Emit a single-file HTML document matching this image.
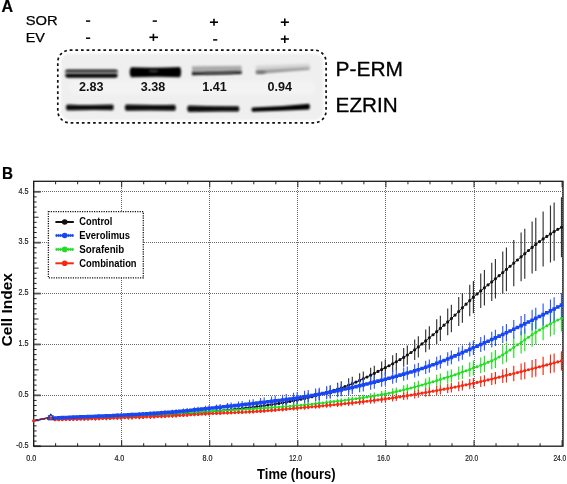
<!DOCTYPE html>
<html><head><meta charset="utf-8"><style>html,body{margin:0;padding:0;background:#fff;}body{width:567px;height:484px;overflow:hidden;}</style></head><body>
<svg width="567" height="484" viewBox="0 0 567 484" style="display:block;will-change:transform">
<defs><filter id="b1" x="-20%" y="-100%" width="140%" height="300%"><feGaussianBlur stdDeviation="0.9"/></filter><filter id="b2" x="-20%" y="-100%" width="140%" height="300%"><feGaussianBlur stdDeviation="1.5"/></filter><filter id="b0" x="-20%" y="-100%" width="140%" height="300%"><feGaussianBlur stdDeviation="0.9"/></filter></defs>
<rect width="567" height="484" fill="#fff"/>
<text x="1.5" y="12.4" font-family="Liberation Sans, sans-serif" font-size="16.5" font-weight="bold" textLength="11.6" stroke="#000" stroke-width="0.2" lengthAdjust="spacingAndGlyphs">A</text>
<text x="25.7" y="24.8" font-family="Liberation Sans, sans-serif" font-size="13.6" textLength="32" stroke="#000" stroke-width="0.25" lengthAdjust="spacingAndGlyphs">SOR</text>
<text x="25.7" y="41.7" font-family="Liberation Sans, sans-serif" font-size="13.6" textLength="19.2" stroke="#000" stroke-width="0.25" lengthAdjust="spacingAndGlyphs">EV</text>
<line x1="86" y1="21.1" x2="90.2" y2="21.1" stroke="#000" stroke-width="1.5"/>
<line x1="152.7" y1="21.1" x2="156.9" y2="21.1" stroke="#000" stroke-width="1.5"/>
<line x1="209.9" y1="22.2" x2="218" y2="22.2" stroke="#000" stroke-width="1.6"/>
<line x1="214" y1="18.7" x2="214" y2="25.7" stroke="#000" stroke-width="1.6"/>
<line x1="280.8" y1="22.2" x2="288.9" y2="22.2" stroke="#000" stroke-width="1.6"/>
<line x1="284.8" y1="18.5" x2="284.8" y2="25.9" stroke="#000" stroke-width="1.6"/>
<line x1="86" y1="38.2" x2="90.2" y2="38.2" stroke="#000" stroke-width="1.5"/>
<line x1="149.4" y1="37.3" x2="158" y2="37.3" stroke="#000" stroke-width="1.6"/>
<line x1="153.4" y1="33.8" x2="153.4" y2="40.9" stroke="#000" stroke-width="1.6"/>
<line x1="213.1" y1="39.9" x2="217.3" y2="39.9" stroke="#000" stroke-width="1.5"/>
<line x1="280.8" y1="39" x2="288.9" y2="39" stroke="#000" stroke-width="1.6"/>
<line x1="284.8" y1="35.5" x2="284.8" y2="42.9" stroke="#000" stroke-width="1.6"/>
<rect x="60.8" y="53.4" width="262.5" height="66.5" rx="9" fill="#efefef" filter="url(#b1)"/>
<rect x="70" y="80.5" width="245" height="14" rx="5" fill="#f3f3f3" filter="url(#b2)"/>
<rect x="57.8" y="50.1" width="268.3" height="72.7" rx="12" fill="none" stroke="#111" stroke-width="1.7" stroke-dasharray="2.7 2.9"/>
<rect x="65" y="69" width="52.8" height="8.6" rx="3.5" fill="#a0a0a0" filter="url(#b1)"/>
<rect x="65.5" y="69.9" width="52" height="2.2" rx="1.1" fill="#1a1a1a" filter="url(#b1)"/>
<rect x="65.5" y="74" width="52" height="3.4" rx="1.7" fill="#000" filter="url(#b1)"/>
<path d="M131,67.2 Q155,68.2 180,67 Q182.2,72 180,77.2 Q155,76.3 131,77.3 Q128.3,72 131,67.2 Z" fill="#030303" filter="url(#b1)"/>
<ellipse cx="153.5" cy="71" rx="5" ry="1.3" fill="#3a3a3a" filter="url(#b1)"/>
<path d="M192,66.2 L241.5,65.8 L241.5,73 L192,74 Z" fill="#aaaaaa" filter="url(#b1)"/>
<path d="M192,72.3 Q215,72.6 241.5,71.2 L241.5,74 Q215,74.6 192,75.2 Z" fill="#1a1a1a" filter="url(#b1)"/>
<path d="M205,72.6 L232,72.2 L232,73.8 L205,74.3 Z" fill="#555" filter="url(#b1)"/>
<path d="M256,66 L309.5,64 L309.5,69.5 L256,73.5 Z" fill="#cfcfcf" filter="url(#b2)"/>
<path d="M256,70.6 L309.5,67.4 L309.5,69.4 L256,74 Z" fill="#999" filter="url(#b1)"/>
<ellipse cx="261" cy="72.3" rx="5" ry="1.4" fill="#707070" filter="url(#b1)"/>
<text x="79" y="91" font-family="Liberation Sans, sans-serif" font-size="12.6" font-weight="bold" fill="#111">2.83</text>
<text x="140.7" y="91" font-family="Liberation Sans, sans-serif" font-size="12.6" font-weight="bold" fill="#111">3.38</text>
<text x="202.3" y="91" font-family="Liberation Sans, sans-serif" font-size="12.6" font-weight="bold" fill="#111">1.41</text>
<text x="267.5" y="91" font-family="Liberation Sans, sans-serif" font-size="12.6" font-weight="bold" fill="#111">0.94</text>
<path d="M67,104.5 Q90,105.5 113,104.6 Q114.8,107.4 113,110.3 Q90,109.6 67,110.6 Q64.8,107.5 67,104.5 Z" fill="#101010" filter="url(#b1)"/>
<path d="M126,104.6 Q150,105.3 175,104.8 Q176.8,107.8 175,110.8 Q150,110.2 126,110.8 Q123.6,107.7 126,104.6 Z" fill="#080808" filter="url(#b1)"/>
<path d="M188.5,105.6 Q213,106.5 238.5,106.2 Q240.3,109 238.5,111.6 Q213,111.2 188.5,112 Q185.8,108.8 188.5,105.6 Z" fill="#080808" filter="url(#b1)"/>
<path d="M252.5,107.4 Q280,107 309,103.8 Q310.9,106.6 309,109.4 Q280,110.6 252.5,111.8 Q250.3,109.6 252.5,107.4 Z" fill="#060606" filter="url(#b1)"/>
<text x="335.6" y="76.1" font-family="Liberation Sans, sans-serif" font-size="20" textLength="67.4" stroke="#000" stroke-width="0.3" lengthAdjust="spacingAndGlyphs">P-ERM</text>
<text x="335.6" y="112.1" font-family="Liberation Sans, sans-serif" font-size="19.8" textLength="62" stroke="#000" stroke-width="0.3" lengthAdjust="spacingAndGlyphs">EZRIN</text>
<text x="2.0" y="179.4" font-family="Liberation Sans, sans-serif" font-size="16.6" font-weight="bold" textLength="11.0" stroke="#000" stroke-width="0.2" lengthAdjust="spacingAndGlyphs">B</text>
<line x1="121.50" y1="182" x2="121.50" y2="446" stroke="#6a6a6a" stroke-width="1" stroke-dasharray="1 1"/>
<line x1="209.50" y1="182" x2="209.50" y2="446" stroke="#6a6a6a" stroke-width="1" stroke-dasharray="1 1"/>
<line x1="297.50" y1="182" x2="297.50" y2="446" stroke="#6a6a6a" stroke-width="1" stroke-dasharray="1 1"/>
<line x1="385.50" y1="182" x2="385.50" y2="446" stroke="#6a6a6a" stroke-width="1" stroke-dasharray="1 1"/>
<line x1="474.50" y1="182" x2="474.50" y2="446" stroke="#6a6a6a" stroke-width="1" stroke-dasharray="1 1"/>
<line x1="562.50" y1="182" x2="562.50" y2="446" stroke="#6a6a6a" stroke-width="1" stroke-dasharray="1 1"/>
<line x1="40" y1="395.50" x2="562" y2="395.50" stroke="#6a6a6a" stroke-width="1" stroke-dasharray="1 1"/>
<line x1="40" y1="344.50" x2="562" y2="344.50" stroke="#6a6a6a" stroke-width="1" stroke-dasharray="1 1"/>
<line x1="40" y1="293.50" x2="562" y2="293.50" stroke="#6a6a6a" stroke-width="1" stroke-dasharray="1 1"/>
<line x1="40" y1="242.50" x2="562" y2="242.50" stroke="#6a6a6a" stroke-width="1" stroke-dasharray="1 1"/>
<line x1="40" y1="191.50" x2="562" y2="191.50" stroke="#6a6a6a" stroke-width="1" stroke-dasharray="1 1"/>
<line x1="33.6" y1="446.20" x2="40.8" y2="446.20" stroke="#555" stroke-width="1.8"/>
<line x1="33.6" y1="441.11" x2="36.6" y2="441.11" stroke="#222" stroke-width="1"/>
<line x1="33.6" y1="436.02" x2="36.6" y2="436.02" stroke="#222" stroke-width="1"/>
<line x1="33.6" y1="430.94" x2="36.6" y2="430.94" stroke="#222" stroke-width="1"/>
<line x1="33.6" y1="425.85" x2="36.6" y2="425.85" stroke="#222" stroke-width="1"/>
<line x1="33.6" y1="420.76" x2="38.6" y2="420.76" stroke="#222" stroke-width="1"/>
<line x1="33.6" y1="415.67" x2="36.6" y2="415.67" stroke="#222" stroke-width="1"/>
<line x1="33.6" y1="410.58" x2="36.6" y2="410.58" stroke="#222" stroke-width="1"/>
<line x1="33.6" y1="405.50" x2="36.6" y2="405.50" stroke="#222" stroke-width="1"/>
<line x1="33.6" y1="400.41" x2="36.6" y2="400.41" stroke="#222" stroke-width="1"/>
<line x1="33.6" y1="395.32" x2="40.8" y2="395.32" stroke="#555" stroke-width="1.8"/>
<line x1="33.6" y1="390.23" x2="36.6" y2="390.23" stroke="#222" stroke-width="1"/>
<line x1="33.6" y1="385.14" x2="36.6" y2="385.14" stroke="#222" stroke-width="1"/>
<line x1="33.6" y1="380.06" x2="36.6" y2="380.06" stroke="#222" stroke-width="1"/>
<line x1="33.6" y1="374.97" x2="36.6" y2="374.97" stroke="#222" stroke-width="1"/>
<line x1="33.6" y1="369.88" x2="38.6" y2="369.88" stroke="#222" stroke-width="1"/>
<line x1="33.6" y1="364.79" x2="36.6" y2="364.79" stroke="#222" stroke-width="1"/>
<line x1="33.6" y1="359.70" x2="36.6" y2="359.70" stroke="#222" stroke-width="1"/>
<line x1="33.6" y1="354.62" x2="36.6" y2="354.62" stroke="#222" stroke-width="1"/>
<line x1="33.6" y1="349.53" x2="36.6" y2="349.53" stroke="#222" stroke-width="1"/>
<line x1="33.6" y1="344.44" x2="40.8" y2="344.44" stroke="#555" stroke-width="1.8"/>
<line x1="33.6" y1="339.35" x2="36.6" y2="339.35" stroke="#222" stroke-width="1"/>
<line x1="33.6" y1="334.26" x2="36.6" y2="334.26" stroke="#222" stroke-width="1"/>
<line x1="33.6" y1="329.18" x2="36.6" y2="329.18" stroke="#222" stroke-width="1"/>
<line x1="33.6" y1="324.09" x2="36.6" y2="324.09" stroke="#222" stroke-width="1"/>
<line x1="33.6" y1="319.00" x2="38.6" y2="319.00" stroke="#222" stroke-width="1"/>
<line x1="33.6" y1="313.91" x2="36.6" y2="313.91" stroke="#222" stroke-width="1"/>
<line x1="33.6" y1="308.82" x2="36.6" y2="308.82" stroke="#222" stroke-width="1"/>
<line x1="33.6" y1="303.74" x2="36.6" y2="303.74" stroke="#222" stroke-width="1"/>
<line x1="33.6" y1="298.65" x2="36.6" y2="298.65" stroke="#222" stroke-width="1"/>
<line x1="33.6" y1="293.56" x2="40.8" y2="293.56" stroke="#555" stroke-width="1.8"/>
<line x1="33.6" y1="288.47" x2="36.6" y2="288.47" stroke="#222" stroke-width="1"/>
<line x1="33.6" y1="283.38" x2="36.6" y2="283.38" stroke="#222" stroke-width="1"/>
<line x1="33.6" y1="278.30" x2="36.6" y2="278.30" stroke="#222" stroke-width="1"/>
<line x1="33.6" y1="273.21" x2="36.6" y2="273.21" stroke="#222" stroke-width="1"/>
<line x1="33.6" y1="268.12" x2="38.6" y2="268.12" stroke="#222" stroke-width="1"/>
<line x1="33.6" y1="263.03" x2="36.6" y2="263.03" stroke="#222" stroke-width="1"/>
<line x1="33.6" y1="257.94" x2="36.6" y2="257.94" stroke="#222" stroke-width="1"/>
<line x1="33.6" y1="252.86" x2="36.6" y2="252.86" stroke="#222" stroke-width="1"/>
<line x1="33.6" y1="247.77" x2="36.6" y2="247.77" stroke="#222" stroke-width="1"/>
<line x1="33.6" y1="242.68" x2="40.8" y2="242.68" stroke="#555" stroke-width="1.8"/>
<line x1="33.6" y1="237.59" x2="36.6" y2="237.59" stroke="#222" stroke-width="1"/>
<line x1="33.6" y1="232.50" x2="36.6" y2="232.50" stroke="#222" stroke-width="1"/>
<line x1="33.6" y1="227.42" x2="36.6" y2="227.42" stroke="#222" stroke-width="1"/>
<line x1="33.6" y1="222.33" x2="36.6" y2="222.33" stroke="#222" stroke-width="1"/>
<line x1="33.6" y1="217.24" x2="38.6" y2="217.24" stroke="#222" stroke-width="1"/>
<line x1="33.6" y1="212.15" x2="36.6" y2="212.15" stroke="#222" stroke-width="1"/>
<line x1="33.6" y1="207.06" x2="36.6" y2="207.06" stroke="#222" stroke-width="1"/>
<line x1="33.6" y1="201.98" x2="36.6" y2="201.98" stroke="#222" stroke-width="1"/>
<line x1="33.6" y1="196.89" x2="36.6" y2="196.89" stroke="#222" stroke-width="1"/>
<line x1="33.6" y1="191.80" x2="40.8" y2="191.80" stroke="#555" stroke-width="1.8"/>
<line x1="33.60" y1="446.2" x2="33.60" y2="440.2" stroke="#222" stroke-width="1"/>
<line x1="33.60" y1="181.3" x2="33.60" y2="187.3" stroke="#222" stroke-width="1"/>
<line x1="55.62" y1="446.2" x2="55.62" y2="443.2" stroke="#222" stroke-width="1"/>
<line x1="55.62" y1="181.3" x2="55.62" y2="184.3" stroke="#222" stroke-width="1"/>
<line x1="77.64" y1="446.2" x2="77.64" y2="443.2" stroke="#222" stroke-width="1"/>
<line x1="77.64" y1="181.3" x2="77.64" y2="184.3" stroke="#222" stroke-width="1"/>
<line x1="99.66" y1="446.2" x2="99.66" y2="443.2" stroke="#222" stroke-width="1"/>
<line x1="99.66" y1="181.3" x2="99.66" y2="184.3" stroke="#222" stroke-width="1"/>
<line x1="121.68" y1="446.2" x2="121.68" y2="440.2" stroke="#222" stroke-width="1"/>
<line x1="121.68" y1="181.3" x2="121.68" y2="187.3" stroke="#222" stroke-width="1"/>
<line x1="143.70" y1="446.2" x2="143.70" y2="443.2" stroke="#222" stroke-width="1"/>
<line x1="143.70" y1="181.3" x2="143.70" y2="184.3" stroke="#222" stroke-width="1"/>
<line x1="165.72" y1="446.2" x2="165.72" y2="443.2" stroke="#222" stroke-width="1"/>
<line x1="165.72" y1="181.3" x2="165.72" y2="184.3" stroke="#222" stroke-width="1"/>
<line x1="187.75" y1="446.2" x2="187.75" y2="443.2" stroke="#222" stroke-width="1"/>
<line x1="187.75" y1="181.3" x2="187.75" y2="184.3" stroke="#222" stroke-width="1"/>
<line x1="209.77" y1="446.2" x2="209.77" y2="440.2" stroke="#222" stroke-width="1"/>
<line x1="209.77" y1="181.3" x2="209.77" y2="187.3" stroke="#222" stroke-width="1"/>
<line x1="231.79" y1="446.2" x2="231.79" y2="443.2" stroke="#222" stroke-width="1"/>
<line x1="231.79" y1="181.3" x2="231.79" y2="184.3" stroke="#222" stroke-width="1"/>
<line x1="253.81" y1="446.2" x2="253.81" y2="443.2" stroke="#222" stroke-width="1"/>
<line x1="253.81" y1="181.3" x2="253.81" y2="184.3" stroke="#222" stroke-width="1"/>
<line x1="275.83" y1="446.2" x2="275.83" y2="443.2" stroke="#222" stroke-width="1"/>
<line x1="275.83" y1="181.3" x2="275.83" y2="184.3" stroke="#222" stroke-width="1"/>
<line x1="297.85" y1="446.2" x2="297.85" y2="440.2" stroke="#222" stroke-width="1"/>
<line x1="297.85" y1="181.3" x2="297.85" y2="187.3" stroke="#222" stroke-width="1"/>
<line x1="319.87" y1="446.2" x2="319.87" y2="443.2" stroke="#222" stroke-width="1"/>
<line x1="319.87" y1="181.3" x2="319.87" y2="184.3" stroke="#222" stroke-width="1"/>
<line x1="341.89" y1="446.2" x2="341.89" y2="443.2" stroke="#222" stroke-width="1"/>
<line x1="341.89" y1="181.3" x2="341.89" y2="184.3" stroke="#222" stroke-width="1"/>
<line x1="363.91" y1="446.2" x2="363.91" y2="443.2" stroke="#222" stroke-width="1"/>
<line x1="363.91" y1="181.3" x2="363.91" y2="184.3" stroke="#222" stroke-width="1"/>
<line x1="385.93" y1="446.2" x2="385.93" y2="440.2" stroke="#222" stroke-width="1"/>
<line x1="385.93" y1="181.3" x2="385.93" y2="187.3" stroke="#222" stroke-width="1"/>
<line x1="407.95" y1="446.2" x2="407.95" y2="443.2" stroke="#222" stroke-width="1"/>
<line x1="407.95" y1="181.3" x2="407.95" y2="184.3" stroke="#222" stroke-width="1"/>
<line x1="429.98" y1="446.2" x2="429.98" y2="443.2" stroke="#222" stroke-width="1"/>
<line x1="429.98" y1="181.3" x2="429.98" y2="184.3" stroke="#222" stroke-width="1"/>
<line x1="452.00" y1="446.2" x2="452.00" y2="443.2" stroke="#222" stroke-width="1"/>
<line x1="452.00" y1="181.3" x2="452.00" y2="184.3" stroke="#222" stroke-width="1"/>
<line x1="474.02" y1="446.2" x2="474.02" y2="440.2" stroke="#222" stroke-width="1"/>
<line x1="474.02" y1="181.3" x2="474.02" y2="187.3" stroke="#222" stroke-width="1"/>
<line x1="496.04" y1="446.2" x2="496.04" y2="443.2" stroke="#222" stroke-width="1"/>
<line x1="496.04" y1="181.3" x2="496.04" y2="184.3" stroke="#222" stroke-width="1"/>
<line x1="518.06" y1="446.2" x2="518.06" y2="443.2" stroke="#222" stroke-width="1"/>
<line x1="518.06" y1="181.3" x2="518.06" y2="184.3" stroke="#222" stroke-width="1"/>
<line x1="540.08" y1="446.2" x2="540.08" y2="443.2" stroke="#222" stroke-width="1"/>
<line x1="540.08" y1="181.3" x2="540.08" y2="184.3" stroke="#222" stroke-width="1"/>
<line x1="562.10" y1="446.2" x2="562.10" y2="440.2" stroke="#222" stroke-width="1"/>
<line x1="562.10" y1="181.3" x2="562.10" y2="187.3" stroke="#222" stroke-width="1"/>
<rect x="33.7" y="181.3" width="529.3" height="264.9" fill="none" stroke="#1a1a1a" stroke-width="1.3"/>
<text x="28.6" y="447.90" font-family="Liberation Sans, sans-serif" font-size="8.4" fill="#222" stroke="#222" stroke-width="0.2" text-anchor="end" textLength="12.4" lengthAdjust="spacingAndGlyphs">-0.5</text>
<text x="28.6" y="397.02" font-family="Liberation Sans, sans-serif" font-size="8.4" fill="#222" stroke="#222" stroke-width="0.2" text-anchor="end" textLength="10.0" lengthAdjust="spacingAndGlyphs">0.5</text>
<text x="28.6" y="346.14" font-family="Liberation Sans, sans-serif" font-size="8.4" fill="#222" stroke="#222" stroke-width="0.2" text-anchor="end" textLength="10.0" lengthAdjust="spacingAndGlyphs">1.5</text>
<text x="28.6" y="295.26" font-family="Liberation Sans, sans-serif" font-size="8.4" fill="#222" stroke="#222" stroke-width="0.2" text-anchor="end" textLength="10.0" lengthAdjust="spacingAndGlyphs">2.5</text>
<text x="28.6" y="244.38" font-family="Liberation Sans, sans-serif" font-size="8.4" fill="#222" stroke="#222" stroke-width="0.2" text-anchor="end" textLength="10.0" lengthAdjust="spacingAndGlyphs">3.5</text>
<text x="28.6" y="193.50" font-family="Liberation Sans, sans-serif" font-size="8.4" fill="#222" stroke="#222" stroke-width="0.2" text-anchor="end" textLength="10.0" lengthAdjust="spacingAndGlyphs">4.5</text>
<text x="31.30" y="460.8" font-family="Liberation Sans, sans-serif" font-size="8.4" fill="#222" stroke="#222" stroke-width="0.2" text-anchor="middle" textLength="10.0" lengthAdjust="spacingAndGlyphs">0.0</text>
<text x="119.38" y="460.8" font-family="Liberation Sans, sans-serif" font-size="8.4" fill="#222" stroke="#222" stroke-width="0.2" text-anchor="middle" textLength="10.0" lengthAdjust="spacingAndGlyphs">4.0</text>
<text x="207.47" y="460.8" font-family="Liberation Sans, sans-serif" font-size="8.4" fill="#222" stroke="#222" stroke-width="0.2" text-anchor="middle" textLength="10.0" lengthAdjust="spacingAndGlyphs">8.0</text>
<text x="295.55" y="460.8" font-family="Liberation Sans, sans-serif" font-size="8.4" fill="#222" stroke="#222" stroke-width="0.2" text-anchor="middle" textLength="12.8" lengthAdjust="spacingAndGlyphs">12.0</text>
<text x="383.63" y="460.8" font-family="Liberation Sans, sans-serif" font-size="8.4" fill="#222" stroke="#222" stroke-width="0.2" text-anchor="middle" textLength="12.8" lengthAdjust="spacingAndGlyphs">16.0</text>
<text x="471.72" y="460.8" font-family="Liberation Sans, sans-serif" font-size="8.4" fill="#222" stroke="#222" stroke-width="0.2" text-anchor="middle" textLength="12.8" lengthAdjust="spacingAndGlyphs">20.0</text>
<text x="559.80" y="460.8" font-family="Liberation Sans, sans-serif" font-size="8.4" fill="#222" stroke="#222" stroke-width="0.2" text-anchor="middle" textLength="12.8" lengthAdjust="spacingAndGlyphs">24.0</text>
<text x="257.1" y="478.7" font-family="Liberation Sans, sans-serif" font-size="14.8" font-weight="bold" textLength="78.6" lengthAdjust="spacingAndGlyphs">Time (hours)</text>
<text transform="translate(11.6,346.4) rotate(-90)" x="0" y="0" font-family="Liberation Sans, sans-serif" font-size="14.4" font-weight="bold" textLength="73.4" lengthAdjust="spacingAndGlyphs">Cell Index</text>
<path d="M55.00,416.71V420.76M62.34,416.42V420.75M66.01,416.27V420.74M73.35,415.96V420.70M77.03,415.80V420.67M84.37,415.46V420.59M88.04,415.29V420.54M95.38,414.93V420.41M99.05,414.75V420.34M106.39,414.39V420.17M110.06,414.21V420.08M117.40,413.84V419.87M121.07,413.67V419.76M128.41,413.31V419.53M132.08,413.13V419.40M139.42,412.77V419.13M143.09,412.58V418.99M150.43,412.20V418.69M154.10,412.00V418.53M161.44,411.59V418.18M165.11,411.37V418.00M172.45,410.92V417.62M176.12,410.68V417.41M183.46,410.17V416.97M187.13,409.90V416.74M194.47,409.34V416.26M198.14,409.04V416.01M205.48,408.42V415.48M209.15,408.10V415.21M216.49,407.41V414.64M220.16,407.05V414.33M227.50,406.29V413.69M231.17,405.89V413.34M238.51,405.04V412.62M242.18,404.60V412.24M249.52,403.66V411.45M253.19,403.17V411.03M260.53,402.13V410.15M264.20,401.58V409.69M271.54,400.41V408.71M275.21,399.79V408.18M282.55,398.46V407.08M286.22,397.76V406.49M293.56,396.26V405.25M297.23,395.46V404.59M304.57,393.68V403.22M308.24,392.68V402.50M315.58,390.48V401.00M319.25,389.29V400.20M326.59,386.78V398.49M330.26,385.45V397.57M337.60,382.72V395.58M341.28,381.31V394.49M348.62,378.33V392.05M352.29,376.72V390.67M359.63,373.27V387.67M363.30,371.45V386.07M370.64,367.64V382.72M374.31,365.67V381.00M381.65,361.62V377.51M385.32,359.55V375.77M392.66,355.25V372.28M396.33,352.96V370.49M403.67,348.05V366.70M407.34,345.39V364.66M414.68,339.50V360.07M418.35,336.29V357.54M425.69,329.58V352.19M429.36,326.18V349.47M436.70,319.32V343.95M440.37,315.79V341.10M447.71,308.54V335.26M451.38,304.83V332.27M458.72,297.02V325.99M462.39,292.95V322.73M469.73,284.85V316.34M473.40,280.97V313.37M480.74,273.60V308.06M484.41,270.00V305.62M491.75,262.77V300.93M495.42,259.07V298.56M502.76,251.46V293.68M506.43,247.62V291.21M513.77,239.98V286.24M521.11,232.49V281.24M524.78,228.74V278.64M532.12,221.38V273.45M535.79,217.86V270.98M543.13,211.38V266.54M550.47,205.40V262.51M554.14,202.58V260.64M561.48,197.31V257.20" stroke="#333333" stroke-width="1.15" fill="none"/>
<path d="M33.60,420.76 L50.78,417.45 L55.00,418.74 L58.67,418.66 L62.34,418.59 L66.01,418.51 L69.68,418.42 L73.35,418.33 L77.03,418.23 L80.70,418.13 L84.37,418.02 L88.04,417.91 L91.71,417.79 L95.38,417.67 L99.05,417.54 L102.72,417.41 L106.39,417.28 L110.06,417.14 L113.73,417.00 L117.40,416.86 L121.07,416.71 L124.74,416.57 L128.41,416.42 L132.08,416.27 L135.75,416.11 L139.42,415.95 L143.09,415.79 L146.76,415.62 L150.43,415.44 L154.10,415.26 L157.77,415.08 L161.44,414.89 L165.11,414.69 L168.78,414.48 L172.45,414.27 L176.12,414.04 L179.79,413.81 L183.46,413.57 L187.13,413.32 L190.80,413.07 L194.47,412.80 L198.14,412.53 L201.81,412.24 L205.48,411.95 L209.15,411.65 L212.82,411.34 L216.49,411.02 L220.16,410.69 L223.83,410.34 L227.50,409.99 L231.17,409.61 L234.84,409.23 L238.51,408.83 L242.18,408.42 L245.85,407.99 L249.52,407.55 L253.19,407.10 L256.86,406.63 L260.53,406.14 L264.20,405.63 L267.87,405.11 L271.54,404.56 L275.21,403.99 L278.88,403.39 L282.55,402.77 L286.22,402.13 L289.89,401.45 L293.56,400.75 L297.23,400.02 L300.90,399.26 L304.57,398.45 L308.24,397.59 L311.91,396.69 L315.58,395.74 L319.25,394.75 L322.92,393.71 L326.59,392.63 L330.26,391.51 L333.93,390.35 L337.60,389.15 L341.28,387.90 L344.95,386.59 L348.62,385.19 L352.29,383.69 L355.96,382.12 L359.63,380.47 L363.30,378.76 L366.97,376.99 L370.64,375.18 L374.31,373.33 L377.98,371.46 L381.65,369.56 L385.32,367.66 L388.99,365.74 L392.66,363.77 L396.33,361.73 L400.00,359.60 L403.67,357.38 L407.34,355.02 L411.01,352.50 L414.68,349.79 L418.35,346.91 L422.02,343.93 L425.69,340.89 L429.36,337.83 L433.03,334.76 L436.70,331.63 L440.37,328.45 L444.04,325.20 L447.71,321.90 L451.38,318.55 L455.05,315.10 L458.72,311.51 L462.39,307.84 L466.06,304.18 L469.73,300.60 L473.40,297.17 L477.07,293.93 L480.74,290.83 L484.41,287.81 L488.08,284.83 L491.75,281.85 L495.42,278.81 L499.09,275.71 L502.76,272.57 L506.43,269.41 L510.10,266.26 L513.77,263.11 L517.44,259.99 L521.11,256.87 L524.78,253.69 L528.45,250.52 L532.12,247.41 L535.79,244.42 L539.46,241.61 L543.13,238.96 L546.80,236.41 L550.47,233.96 L554.14,231.61 L557.81,229.37 L561.48,227.25" stroke="#111111" stroke-width="1.0" fill="none" stroke-linejoin="round"/>
<path d="M53.40,418.74a1.6,1.6 0 1,0 3.20,0a1.6,1.6 0 1,0 -3.20,0zM57.07,418.66a1.6,1.6 0 1,0 3.20,0a1.6,1.6 0 1,0 -3.20,0zM60.74,418.59a1.6,1.6 0 1,0 3.20,0a1.6,1.6 0 1,0 -3.20,0zM64.41,418.51a1.6,1.6 0 1,0 3.20,0a1.6,1.6 0 1,0 -3.20,0zM68.08,418.42a1.6,1.6 0 1,0 3.20,0a1.6,1.6 0 1,0 -3.20,0zM71.75,418.33a1.6,1.6 0 1,0 3.20,0a1.6,1.6 0 1,0 -3.20,0zM75.43,418.23a1.6,1.6 0 1,0 3.20,0a1.6,1.6 0 1,0 -3.20,0zM79.10,418.13a1.6,1.6 0 1,0 3.20,0a1.6,1.6 0 1,0 -3.20,0zM82.77,418.02a1.6,1.6 0 1,0 3.20,0a1.6,1.6 0 1,0 -3.20,0zM86.44,417.91a1.6,1.6 0 1,0 3.20,0a1.6,1.6 0 1,0 -3.20,0zM90.11,417.79a1.6,1.6 0 1,0 3.20,0a1.6,1.6 0 1,0 -3.20,0zM93.78,417.67a1.6,1.6 0 1,0 3.20,0a1.6,1.6 0 1,0 -3.20,0zM97.45,417.54a1.6,1.6 0 1,0 3.20,0a1.6,1.6 0 1,0 -3.20,0zM101.12,417.41a1.6,1.6 0 1,0 3.20,0a1.6,1.6 0 1,0 -3.20,0zM104.79,417.28a1.6,1.6 0 1,0 3.20,0a1.6,1.6 0 1,0 -3.20,0zM108.46,417.14a1.6,1.6 0 1,0 3.20,0a1.6,1.6 0 1,0 -3.20,0zM112.13,417.00a1.6,1.6 0 1,0 3.20,0a1.6,1.6 0 1,0 -3.20,0zM115.80,416.86a1.6,1.6 0 1,0 3.20,0a1.6,1.6 0 1,0 -3.20,0zM119.47,416.71a1.6,1.6 0 1,0 3.20,0a1.6,1.6 0 1,0 -3.20,0zM123.14,416.57a1.6,1.6 0 1,0 3.20,0a1.6,1.6 0 1,0 -3.20,0zM126.81,416.42a1.6,1.6 0 1,0 3.20,0a1.6,1.6 0 1,0 -3.20,0zM130.48,416.27a1.6,1.6 0 1,0 3.20,0a1.6,1.6 0 1,0 -3.20,0zM134.15,416.11a1.6,1.6 0 1,0 3.20,0a1.6,1.6 0 1,0 -3.20,0zM137.82,415.95a1.6,1.6 0 1,0 3.20,0a1.6,1.6 0 1,0 -3.20,0zM141.49,415.79a1.6,1.6 0 1,0 3.20,0a1.6,1.6 0 1,0 -3.20,0zM145.16,415.62a1.6,1.6 0 1,0 3.20,0a1.6,1.6 0 1,0 -3.20,0zM148.83,415.44a1.6,1.6 0 1,0 3.20,0a1.6,1.6 0 1,0 -3.20,0zM152.50,415.26a1.6,1.6 0 1,0 3.20,0a1.6,1.6 0 1,0 -3.20,0zM156.17,415.08a1.6,1.6 0 1,0 3.20,0a1.6,1.6 0 1,0 -3.20,0zM159.84,414.89a1.6,1.6 0 1,0 3.20,0a1.6,1.6 0 1,0 -3.20,0zM163.51,414.69a1.6,1.6 0 1,0 3.20,0a1.6,1.6 0 1,0 -3.20,0zM167.18,414.48a1.6,1.6 0 1,0 3.20,0a1.6,1.6 0 1,0 -3.20,0zM170.85,414.27a1.6,1.6 0 1,0 3.20,0a1.6,1.6 0 1,0 -3.20,0zM174.52,414.04a1.6,1.6 0 1,0 3.20,0a1.6,1.6 0 1,0 -3.20,0zM178.19,413.81a1.6,1.6 0 1,0 3.20,0a1.6,1.6 0 1,0 -3.20,0zM181.86,413.57a1.6,1.6 0 1,0 3.20,0a1.6,1.6 0 1,0 -3.20,0zM185.53,413.32a1.6,1.6 0 1,0 3.20,0a1.6,1.6 0 1,0 -3.20,0zM189.20,413.07a1.6,1.6 0 1,0 3.20,0a1.6,1.6 0 1,0 -3.20,0zM192.87,412.80a1.6,1.6 0 1,0 3.20,0a1.6,1.6 0 1,0 -3.20,0zM196.54,412.53a1.6,1.6 0 1,0 3.20,0a1.6,1.6 0 1,0 -3.20,0zM200.21,412.24a1.6,1.6 0 1,0 3.20,0a1.6,1.6 0 1,0 -3.20,0zM203.88,411.95a1.6,1.6 0 1,0 3.20,0a1.6,1.6 0 1,0 -3.20,0zM207.55,411.65a1.6,1.6 0 1,0 3.20,0a1.6,1.6 0 1,0 -3.20,0zM211.22,411.34a1.6,1.6 0 1,0 3.20,0a1.6,1.6 0 1,0 -3.20,0zM214.89,411.02a1.6,1.6 0 1,0 3.20,0a1.6,1.6 0 1,0 -3.20,0zM218.56,410.69a1.6,1.6 0 1,0 3.20,0a1.6,1.6 0 1,0 -3.20,0zM222.23,410.34a1.6,1.6 0 1,0 3.20,0a1.6,1.6 0 1,0 -3.20,0zM225.90,409.99a1.6,1.6 0 1,0 3.20,0a1.6,1.6 0 1,0 -3.20,0zM229.57,409.61a1.6,1.6 0 1,0 3.20,0a1.6,1.6 0 1,0 -3.20,0zM233.24,409.23a1.6,1.6 0 1,0 3.20,0a1.6,1.6 0 1,0 -3.20,0zM236.91,408.83a1.6,1.6 0 1,0 3.20,0a1.6,1.6 0 1,0 -3.20,0zM240.58,408.42a1.6,1.6 0 1,0 3.20,0a1.6,1.6 0 1,0 -3.20,0zM244.25,407.99a1.6,1.6 0 1,0 3.20,0a1.6,1.6 0 1,0 -3.20,0zM247.92,407.55a1.6,1.6 0 1,0 3.20,0a1.6,1.6 0 1,0 -3.20,0zM251.59,407.10a1.6,1.6 0 1,0 3.20,0a1.6,1.6 0 1,0 -3.20,0zM255.26,406.63a1.6,1.6 0 1,0 3.20,0a1.6,1.6 0 1,0 -3.20,0zM258.93,406.14a1.6,1.6 0 1,0 3.20,0a1.6,1.6 0 1,0 -3.20,0zM262.60,405.63a1.6,1.6 0 1,0 3.20,0a1.6,1.6 0 1,0 -3.20,0zM266.27,405.11a1.6,1.6 0 1,0 3.20,0a1.6,1.6 0 1,0 -3.20,0zM269.94,404.56a1.6,1.6 0 1,0 3.20,0a1.6,1.6 0 1,0 -3.20,0zM273.61,403.99a1.6,1.6 0 1,0 3.20,0a1.6,1.6 0 1,0 -3.20,0zM277.28,403.39a1.6,1.6 0 1,0 3.20,0a1.6,1.6 0 1,0 -3.20,0zM280.95,402.77a1.6,1.6 0 1,0 3.20,0a1.6,1.6 0 1,0 -3.20,0zM284.62,402.13a1.6,1.6 0 1,0 3.20,0a1.6,1.6 0 1,0 -3.20,0zM288.29,401.45a1.6,1.6 0 1,0 3.20,0a1.6,1.6 0 1,0 -3.20,0zM291.96,400.75a1.6,1.6 0 1,0 3.20,0a1.6,1.6 0 1,0 -3.20,0zM295.63,400.02a1.6,1.6 0 1,0 3.20,0a1.6,1.6 0 1,0 -3.20,0zM299.30,399.26a1.6,1.6 0 1,0 3.20,0a1.6,1.6 0 1,0 -3.20,0zM302.97,398.45a1.6,1.6 0 1,0 3.20,0a1.6,1.6 0 1,0 -3.20,0zM306.64,397.59a1.6,1.6 0 1,0 3.20,0a1.6,1.6 0 1,0 -3.20,0zM310.31,396.69a1.6,1.6 0 1,0 3.20,0a1.6,1.6 0 1,0 -3.20,0zM313.98,395.74a1.6,1.6 0 1,0 3.20,0a1.6,1.6 0 1,0 -3.20,0zM317.65,394.75a1.6,1.6 0 1,0 3.20,0a1.6,1.6 0 1,0 -3.20,0zM321.32,393.71a1.6,1.6 0 1,0 3.20,0a1.6,1.6 0 1,0 -3.20,0zM324.99,392.63a1.6,1.6 0 1,0 3.20,0a1.6,1.6 0 1,0 -3.20,0zM328.66,391.51a1.6,1.6 0 1,0 3.20,0a1.6,1.6 0 1,0 -3.20,0zM332.33,390.35a1.6,1.6 0 1,0 3.20,0a1.6,1.6 0 1,0 -3.20,0zM336.00,389.15a1.6,1.6 0 1,0 3.20,0a1.6,1.6 0 1,0 -3.20,0zM339.68,387.90a1.6,1.6 0 1,0 3.20,0a1.6,1.6 0 1,0 -3.20,0zM343.35,386.59a1.6,1.6 0 1,0 3.20,0a1.6,1.6 0 1,0 -3.20,0zM347.02,385.19a1.6,1.6 0 1,0 3.20,0a1.6,1.6 0 1,0 -3.20,0zM350.69,383.69a1.6,1.6 0 1,0 3.20,0a1.6,1.6 0 1,0 -3.20,0zM354.36,382.12a1.6,1.6 0 1,0 3.20,0a1.6,1.6 0 1,0 -3.20,0zM358.03,380.47a1.6,1.6 0 1,0 3.20,0a1.6,1.6 0 1,0 -3.20,0zM361.70,378.76a1.6,1.6 0 1,0 3.20,0a1.6,1.6 0 1,0 -3.20,0zM365.37,376.99a1.6,1.6 0 1,0 3.20,0a1.6,1.6 0 1,0 -3.20,0zM369.04,375.18a1.6,1.6 0 1,0 3.20,0a1.6,1.6 0 1,0 -3.20,0zM372.71,373.33a1.6,1.6 0 1,0 3.20,0a1.6,1.6 0 1,0 -3.20,0zM376.38,371.46a1.6,1.6 0 1,0 3.20,0a1.6,1.6 0 1,0 -3.20,0zM380.05,369.56a1.6,1.6 0 1,0 3.20,0a1.6,1.6 0 1,0 -3.20,0zM383.72,367.66a1.6,1.6 0 1,0 3.20,0a1.6,1.6 0 1,0 -3.20,0zM387.39,365.74a1.6,1.6 0 1,0 3.20,0a1.6,1.6 0 1,0 -3.20,0zM391.06,363.77a1.6,1.6 0 1,0 3.20,0a1.6,1.6 0 1,0 -3.20,0zM394.73,361.73a1.6,1.6 0 1,0 3.20,0a1.6,1.6 0 1,0 -3.20,0zM398.40,359.60a1.6,1.6 0 1,0 3.20,0a1.6,1.6 0 1,0 -3.20,0zM402.07,357.38a1.6,1.6 0 1,0 3.20,0a1.6,1.6 0 1,0 -3.20,0zM405.74,355.02a1.6,1.6 0 1,0 3.20,0a1.6,1.6 0 1,0 -3.20,0zM409.41,352.50a1.6,1.6 0 1,0 3.20,0a1.6,1.6 0 1,0 -3.20,0zM413.08,349.79a1.6,1.6 0 1,0 3.20,0a1.6,1.6 0 1,0 -3.20,0zM416.75,346.91a1.6,1.6 0 1,0 3.20,0a1.6,1.6 0 1,0 -3.20,0zM420.42,343.93a1.6,1.6 0 1,0 3.20,0a1.6,1.6 0 1,0 -3.20,0zM424.09,340.89a1.6,1.6 0 1,0 3.20,0a1.6,1.6 0 1,0 -3.20,0zM427.76,337.83a1.6,1.6 0 1,0 3.20,0a1.6,1.6 0 1,0 -3.20,0zM431.43,334.76a1.6,1.6 0 1,0 3.20,0a1.6,1.6 0 1,0 -3.20,0zM435.10,331.63a1.6,1.6 0 1,0 3.20,0a1.6,1.6 0 1,0 -3.20,0zM438.77,328.45a1.6,1.6 0 1,0 3.20,0a1.6,1.6 0 1,0 -3.20,0zM442.44,325.20a1.6,1.6 0 1,0 3.20,0a1.6,1.6 0 1,0 -3.20,0zM446.11,321.90a1.6,1.6 0 1,0 3.20,0a1.6,1.6 0 1,0 -3.20,0zM449.78,318.55a1.6,1.6 0 1,0 3.20,0a1.6,1.6 0 1,0 -3.20,0zM453.45,315.10a1.6,1.6 0 1,0 3.20,0a1.6,1.6 0 1,0 -3.20,0zM457.12,311.51a1.6,1.6 0 1,0 3.20,0a1.6,1.6 0 1,0 -3.20,0zM460.79,307.84a1.6,1.6 0 1,0 3.20,0a1.6,1.6 0 1,0 -3.20,0zM464.46,304.18a1.6,1.6 0 1,0 3.20,0a1.6,1.6 0 1,0 -3.20,0zM468.13,300.60a1.6,1.6 0 1,0 3.20,0a1.6,1.6 0 1,0 -3.20,0zM471.80,297.17a1.6,1.6 0 1,0 3.20,0a1.6,1.6 0 1,0 -3.20,0zM475.47,293.93a1.6,1.6 0 1,0 3.20,0a1.6,1.6 0 1,0 -3.20,0zM479.14,290.83a1.6,1.6 0 1,0 3.20,0a1.6,1.6 0 1,0 -3.20,0zM482.81,287.81a1.6,1.6 0 1,0 3.20,0a1.6,1.6 0 1,0 -3.20,0zM486.48,284.83a1.6,1.6 0 1,0 3.20,0a1.6,1.6 0 1,0 -3.20,0zM490.15,281.85a1.6,1.6 0 1,0 3.20,0a1.6,1.6 0 1,0 -3.20,0zM493.82,278.81a1.6,1.6 0 1,0 3.20,0a1.6,1.6 0 1,0 -3.20,0zM497.49,275.71a1.6,1.6 0 1,0 3.20,0a1.6,1.6 0 1,0 -3.20,0zM501.16,272.57a1.6,1.6 0 1,0 3.20,0a1.6,1.6 0 1,0 -3.20,0zM504.83,269.41a1.6,1.6 0 1,0 3.20,0a1.6,1.6 0 1,0 -3.20,0zM508.50,266.26a1.6,1.6 0 1,0 3.20,0a1.6,1.6 0 1,0 -3.20,0zM512.17,263.11a1.6,1.6 0 1,0 3.20,0a1.6,1.6 0 1,0 -3.20,0zM515.84,259.99a1.6,1.6 0 1,0 3.20,0a1.6,1.6 0 1,0 -3.20,0zM519.51,256.87a1.6,1.6 0 1,0 3.20,0a1.6,1.6 0 1,0 -3.20,0zM523.18,253.69a1.6,1.6 0 1,0 3.20,0a1.6,1.6 0 1,0 -3.20,0zM526.85,250.52a1.6,1.6 0 1,0 3.20,0a1.6,1.6 0 1,0 -3.20,0zM530.52,247.41a1.6,1.6 0 1,0 3.20,0a1.6,1.6 0 1,0 -3.20,0zM534.19,244.42a1.6,1.6 0 1,0 3.20,0a1.6,1.6 0 1,0 -3.20,0zM537.86,241.61a1.6,1.6 0 1,0 3.20,0a1.6,1.6 0 1,0 -3.20,0zM541.53,238.96a1.6,1.6 0 1,0 3.20,0a1.6,1.6 0 1,0 -3.20,0zM545.20,236.41a1.6,1.6 0 1,0 3.20,0a1.6,1.6 0 1,0 -3.20,0zM548.87,233.96a1.6,1.6 0 1,0 3.20,0a1.6,1.6 0 1,0 -3.20,0zM552.54,231.61a1.6,1.6 0 1,0 3.20,0a1.6,1.6 0 1,0 -3.20,0zM556.21,229.37a1.6,1.6 0 1,0 3.20,0a1.6,1.6 0 1,0 -3.20,0zM559.88,227.25a1.6,1.6 0 1,0 3.20,0a1.6,1.6 0 1,0 -3.20,0z" fill="#111111"/>
<path d="M55.00,417.98V419.50M62.34,417.80V419.37M66.01,417.71V419.31M73.35,417.50V419.16M77.03,417.39V419.08M84.37,417.15V418.90M88.04,417.03V418.80M95.38,416.76V418.60M99.05,416.62V418.49M106.39,416.32V418.26M110.06,416.17V418.14M117.40,415.85V417.88M121.07,415.68V417.75M128.41,415.32V417.47M132.08,415.13V417.32M139.42,414.74V416.99M143.09,414.53V416.82M150.43,414.09V416.47M154.10,413.87V416.28M161.44,413.41V415.90M165.11,413.17V415.70M172.45,412.67V415.28M176.12,412.40V415.06M183.46,411.84V414.58M187.13,411.55V414.33M194.47,410.97V413.84M198.14,410.68V413.59M205.48,410.13V413.13M209.15,409.86V412.91M216.49,409.37V412.51M220.16,409.14V412.32M227.50,408.69V411.95M231.17,408.47V411.77M238.51,408.03V411.41M242.18,407.80V411.22M249.52,407.32V410.83M253.19,407.07V410.62M260.53,406.54V410.18M264.20,406.27V409.95M271.54,405.71V409.48M275.21,405.41V409.24M282.55,404.81V408.74M286.22,404.49V408.47M293.56,403.82V407.92M297.23,403.47V407.63M304.57,402.73V407.01M308.24,402.33V406.68M315.58,401.50V405.98M319.25,401.06V405.62M326.59,400.14V404.86M330.26,399.66V404.46M337.60,398.67V403.65M341.28,398.16V403.23M348.62,397.08V402.38M352.29,396.50V401.95M359.63,395.29V401.09M363.30,394.64V400.64M370.64,393.27V399.72M374.31,392.54V399.24M381.65,390.99V398.21M385.32,390.16V397.66M392.66,388.37V396.45M396.33,387.40V395.78M403.67,385.33V394.32M407.34,384.24V393.54M414.68,381.97V391.89M418.35,380.80V391.03M425.69,378.41V389.26M429.36,377.21V388.35M436.70,374.74V386.47M440.37,373.46V385.49M447.71,370.81V383.44M451.38,369.44V382.38M458.72,366.60V380.18M462.39,365.14V379.06M469.73,362.13V376.75M473.40,360.58V375.57M480.74,357.42V373.20M484.41,355.77V371.98M491.75,352.15V369.35M495.42,350.10V367.89M502.76,345.27V364.35M506.43,342.53V362.27M513.77,336.80V357.88M521.11,331.24V353.55M524.78,328.44V351.29M532.12,322.91V346.66M535.79,320.27V344.43M543.13,315.44V340.36M550.47,311.01V336.60M554.14,308.93V334.82M561.48,305.06V331.48" stroke="#22e022" stroke-width="1.15" fill="none"/>
<path d="M33.60,420.76 L50.78,417.45 L55.00,418.74 L58.67,418.66 L62.34,418.59 L66.01,418.51 L69.68,418.42 L73.35,418.33 L77.03,418.23 L80.70,418.13 L84.37,418.03 L88.04,417.91 L91.71,417.80 L95.38,417.68 L99.05,417.55 L102.72,417.42 L106.39,417.29 L110.06,417.15 L113.73,417.01 L117.40,416.87 L121.07,416.72 L124.74,416.56 L128.41,416.40 L132.08,416.23 L135.75,416.05 L139.42,415.87 L143.09,415.68 L146.76,415.48 L150.43,415.28 L154.10,415.07 L157.77,414.87 L161.44,414.65 L165.11,414.44 L168.78,414.21 L172.45,413.98 L176.12,413.73 L179.79,413.47 L183.46,413.21 L187.13,412.94 L190.80,412.67 L194.47,412.40 L198.14,412.14 L201.81,411.88 L205.48,411.63 L209.15,411.39 L212.82,411.16 L216.49,410.94 L220.16,410.73 L223.83,410.52 L227.50,410.32 L231.17,410.12 L234.84,409.92 L238.51,409.72 L242.18,409.51 L245.85,409.30 L249.52,409.08 L253.19,408.84 L256.86,408.60 L260.53,408.36 L264.20,408.11 L267.87,407.86 L271.54,407.60 L275.21,407.33 L278.88,407.05 L282.55,406.77 L286.22,406.48 L289.89,406.18 L293.56,405.87 L297.23,405.55 L300.90,405.22 L304.57,404.87 L308.24,404.51 L311.91,404.13 L315.58,403.74 L319.25,403.34 L322.92,402.93 L326.59,402.50 L330.26,402.06 L333.93,401.62 L337.60,401.16 L341.28,400.69 L344.95,400.21 L348.62,399.73 L352.29,399.23 L355.96,398.72 L359.63,398.19 L363.30,397.64 L366.97,397.08 L370.64,396.50 L374.31,395.89 L377.98,395.26 L381.65,394.60 L385.32,393.91 L388.99,393.19 L392.66,392.41 L396.33,391.59 L400.00,390.73 L403.67,389.83 L407.34,388.89 L411.01,387.92 L414.68,386.93 L418.35,385.91 L422.02,384.88 L425.69,383.83 L429.36,382.78 L433.03,381.71 L436.70,380.60 L440.37,379.47 L444.04,378.31 L447.71,377.12 L451.38,375.91 L455.05,374.66 L458.72,373.39 L462.39,372.10 L466.06,370.78 L469.73,369.44 L473.40,368.08 L477.07,366.70 L480.74,365.31 L484.41,363.87 L488.08,362.36 L491.75,360.75 L495.42,359.00 L499.09,357.03 L502.76,354.81 L506.43,352.40 L510.10,349.88 L513.77,347.34 L517.44,344.85 L521.11,342.39 L524.78,339.86 L528.45,337.31 L532.12,334.79 L535.79,332.35 L539.46,330.05 L543.13,327.90 L546.80,325.81 L550.47,323.80 L554.14,321.87 L557.81,320.03 L561.48,318.27" stroke="#22dd22" stroke-width="1.1" fill="none" stroke-linejoin="round"/>
<path d="M53.50,418.74a1.5,1.5 0 1,0 3.00,0a1.5,1.5 0 1,0 -3.00,0zM57.17,418.66a1.5,1.5 0 1,0 3.00,0a1.5,1.5 0 1,0 -3.00,0zM60.84,418.59a1.5,1.5 0 1,0 3.00,0a1.5,1.5 0 1,0 -3.00,0zM64.51,418.51a1.5,1.5 0 1,0 3.00,0a1.5,1.5 0 1,0 -3.00,0zM68.18,418.42a1.5,1.5 0 1,0 3.00,0a1.5,1.5 0 1,0 -3.00,0zM71.85,418.33a1.5,1.5 0 1,0 3.00,0a1.5,1.5 0 1,0 -3.00,0zM75.53,418.23a1.5,1.5 0 1,0 3.00,0a1.5,1.5 0 1,0 -3.00,0zM79.20,418.13a1.5,1.5 0 1,0 3.00,0a1.5,1.5 0 1,0 -3.00,0zM82.87,418.03a1.5,1.5 0 1,0 3.00,0a1.5,1.5 0 1,0 -3.00,0zM86.54,417.91a1.5,1.5 0 1,0 3.00,0a1.5,1.5 0 1,0 -3.00,0zM90.21,417.80a1.5,1.5 0 1,0 3.00,0a1.5,1.5 0 1,0 -3.00,0zM93.88,417.68a1.5,1.5 0 1,0 3.00,0a1.5,1.5 0 1,0 -3.00,0zM97.55,417.55a1.5,1.5 0 1,0 3.00,0a1.5,1.5 0 1,0 -3.00,0zM101.22,417.42a1.5,1.5 0 1,0 3.00,0a1.5,1.5 0 1,0 -3.00,0zM104.89,417.29a1.5,1.5 0 1,0 3.00,0a1.5,1.5 0 1,0 -3.00,0zM108.56,417.15a1.5,1.5 0 1,0 3.00,0a1.5,1.5 0 1,0 -3.00,0zM112.23,417.01a1.5,1.5 0 1,0 3.00,0a1.5,1.5 0 1,0 -3.00,0zM115.90,416.87a1.5,1.5 0 1,0 3.00,0a1.5,1.5 0 1,0 -3.00,0zM119.57,416.72a1.5,1.5 0 1,0 3.00,0a1.5,1.5 0 1,0 -3.00,0zM123.24,416.56a1.5,1.5 0 1,0 3.00,0a1.5,1.5 0 1,0 -3.00,0zM126.91,416.40a1.5,1.5 0 1,0 3.00,0a1.5,1.5 0 1,0 -3.00,0zM130.58,416.23a1.5,1.5 0 1,0 3.00,0a1.5,1.5 0 1,0 -3.00,0zM134.25,416.05a1.5,1.5 0 1,0 3.00,0a1.5,1.5 0 1,0 -3.00,0zM137.92,415.87a1.5,1.5 0 1,0 3.00,0a1.5,1.5 0 1,0 -3.00,0zM141.59,415.68a1.5,1.5 0 1,0 3.00,0a1.5,1.5 0 1,0 -3.00,0zM145.26,415.48a1.5,1.5 0 1,0 3.00,0a1.5,1.5 0 1,0 -3.00,0zM148.93,415.28a1.5,1.5 0 1,0 3.00,0a1.5,1.5 0 1,0 -3.00,0zM152.60,415.07a1.5,1.5 0 1,0 3.00,0a1.5,1.5 0 1,0 -3.00,0zM156.27,414.87a1.5,1.5 0 1,0 3.00,0a1.5,1.5 0 1,0 -3.00,0zM159.94,414.65a1.5,1.5 0 1,0 3.00,0a1.5,1.5 0 1,0 -3.00,0zM163.61,414.44a1.5,1.5 0 1,0 3.00,0a1.5,1.5 0 1,0 -3.00,0zM167.28,414.21a1.5,1.5 0 1,0 3.00,0a1.5,1.5 0 1,0 -3.00,0zM170.95,413.98a1.5,1.5 0 1,0 3.00,0a1.5,1.5 0 1,0 -3.00,0zM174.62,413.73a1.5,1.5 0 1,0 3.00,0a1.5,1.5 0 1,0 -3.00,0zM178.29,413.47a1.5,1.5 0 1,0 3.00,0a1.5,1.5 0 1,0 -3.00,0zM181.96,413.21a1.5,1.5 0 1,0 3.00,0a1.5,1.5 0 1,0 -3.00,0zM185.63,412.94a1.5,1.5 0 1,0 3.00,0a1.5,1.5 0 1,0 -3.00,0zM189.30,412.67a1.5,1.5 0 1,0 3.00,0a1.5,1.5 0 1,0 -3.00,0zM192.97,412.40a1.5,1.5 0 1,0 3.00,0a1.5,1.5 0 1,0 -3.00,0zM196.64,412.14a1.5,1.5 0 1,0 3.00,0a1.5,1.5 0 1,0 -3.00,0zM200.31,411.88a1.5,1.5 0 1,0 3.00,0a1.5,1.5 0 1,0 -3.00,0zM203.98,411.63a1.5,1.5 0 1,0 3.00,0a1.5,1.5 0 1,0 -3.00,0zM207.65,411.39a1.5,1.5 0 1,0 3.00,0a1.5,1.5 0 1,0 -3.00,0zM211.32,411.16a1.5,1.5 0 1,0 3.00,0a1.5,1.5 0 1,0 -3.00,0zM214.99,410.94a1.5,1.5 0 1,0 3.00,0a1.5,1.5 0 1,0 -3.00,0zM218.66,410.73a1.5,1.5 0 1,0 3.00,0a1.5,1.5 0 1,0 -3.00,0zM222.33,410.52a1.5,1.5 0 1,0 3.00,0a1.5,1.5 0 1,0 -3.00,0zM226.00,410.32a1.5,1.5 0 1,0 3.00,0a1.5,1.5 0 1,0 -3.00,0zM229.67,410.12a1.5,1.5 0 1,0 3.00,0a1.5,1.5 0 1,0 -3.00,0zM233.34,409.92a1.5,1.5 0 1,0 3.00,0a1.5,1.5 0 1,0 -3.00,0zM237.01,409.72a1.5,1.5 0 1,0 3.00,0a1.5,1.5 0 1,0 -3.00,0zM240.68,409.51a1.5,1.5 0 1,0 3.00,0a1.5,1.5 0 1,0 -3.00,0zM244.35,409.30a1.5,1.5 0 1,0 3.00,0a1.5,1.5 0 1,0 -3.00,0zM248.02,409.08a1.5,1.5 0 1,0 3.00,0a1.5,1.5 0 1,0 -3.00,0zM251.69,408.84a1.5,1.5 0 1,0 3.00,0a1.5,1.5 0 1,0 -3.00,0zM255.36,408.60a1.5,1.5 0 1,0 3.00,0a1.5,1.5 0 1,0 -3.00,0zM259.03,408.36a1.5,1.5 0 1,0 3.00,0a1.5,1.5 0 1,0 -3.00,0zM262.70,408.11a1.5,1.5 0 1,0 3.00,0a1.5,1.5 0 1,0 -3.00,0zM266.37,407.86a1.5,1.5 0 1,0 3.00,0a1.5,1.5 0 1,0 -3.00,0zM270.04,407.60a1.5,1.5 0 1,0 3.00,0a1.5,1.5 0 1,0 -3.00,0zM273.71,407.33a1.5,1.5 0 1,0 3.00,0a1.5,1.5 0 1,0 -3.00,0zM277.38,407.05a1.5,1.5 0 1,0 3.00,0a1.5,1.5 0 1,0 -3.00,0zM281.05,406.77a1.5,1.5 0 1,0 3.00,0a1.5,1.5 0 1,0 -3.00,0zM284.72,406.48a1.5,1.5 0 1,0 3.00,0a1.5,1.5 0 1,0 -3.00,0zM288.39,406.18a1.5,1.5 0 1,0 3.00,0a1.5,1.5 0 1,0 -3.00,0zM292.06,405.87a1.5,1.5 0 1,0 3.00,0a1.5,1.5 0 1,0 -3.00,0zM295.73,405.55a1.5,1.5 0 1,0 3.00,0a1.5,1.5 0 1,0 -3.00,0zM299.40,405.22a1.5,1.5 0 1,0 3.00,0a1.5,1.5 0 1,0 -3.00,0zM303.07,404.87a1.5,1.5 0 1,0 3.00,0a1.5,1.5 0 1,0 -3.00,0zM306.74,404.51a1.5,1.5 0 1,0 3.00,0a1.5,1.5 0 1,0 -3.00,0zM310.41,404.13a1.5,1.5 0 1,0 3.00,0a1.5,1.5 0 1,0 -3.00,0zM314.08,403.74a1.5,1.5 0 1,0 3.00,0a1.5,1.5 0 1,0 -3.00,0zM317.75,403.34a1.5,1.5 0 1,0 3.00,0a1.5,1.5 0 1,0 -3.00,0zM321.42,402.93a1.5,1.5 0 1,0 3.00,0a1.5,1.5 0 1,0 -3.00,0zM325.09,402.50a1.5,1.5 0 1,0 3.00,0a1.5,1.5 0 1,0 -3.00,0zM328.76,402.06a1.5,1.5 0 1,0 3.00,0a1.5,1.5 0 1,0 -3.00,0zM332.43,401.62a1.5,1.5 0 1,0 3.00,0a1.5,1.5 0 1,0 -3.00,0zM336.10,401.16a1.5,1.5 0 1,0 3.00,0a1.5,1.5 0 1,0 -3.00,0zM339.78,400.69a1.5,1.5 0 1,0 3.00,0a1.5,1.5 0 1,0 -3.00,0zM343.45,400.21a1.5,1.5 0 1,0 3.00,0a1.5,1.5 0 1,0 -3.00,0zM347.12,399.73a1.5,1.5 0 1,0 3.00,0a1.5,1.5 0 1,0 -3.00,0zM350.79,399.23a1.5,1.5 0 1,0 3.00,0a1.5,1.5 0 1,0 -3.00,0zM354.46,398.72a1.5,1.5 0 1,0 3.00,0a1.5,1.5 0 1,0 -3.00,0zM358.13,398.19a1.5,1.5 0 1,0 3.00,0a1.5,1.5 0 1,0 -3.00,0zM361.80,397.64a1.5,1.5 0 1,0 3.00,0a1.5,1.5 0 1,0 -3.00,0zM365.47,397.08a1.5,1.5 0 1,0 3.00,0a1.5,1.5 0 1,0 -3.00,0zM369.14,396.50a1.5,1.5 0 1,0 3.00,0a1.5,1.5 0 1,0 -3.00,0zM372.81,395.89a1.5,1.5 0 1,0 3.00,0a1.5,1.5 0 1,0 -3.00,0zM376.48,395.26a1.5,1.5 0 1,0 3.00,0a1.5,1.5 0 1,0 -3.00,0zM380.15,394.60a1.5,1.5 0 1,0 3.00,0a1.5,1.5 0 1,0 -3.00,0zM383.82,393.91a1.5,1.5 0 1,0 3.00,0a1.5,1.5 0 1,0 -3.00,0zM387.49,393.19a1.5,1.5 0 1,0 3.00,0a1.5,1.5 0 1,0 -3.00,0zM391.16,392.41a1.5,1.5 0 1,0 3.00,0a1.5,1.5 0 1,0 -3.00,0zM394.83,391.59a1.5,1.5 0 1,0 3.00,0a1.5,1.5 0 1,0 -3.00,0zM398.50,390.73a1.5,1.5 0 1,0 3.00,0a1.5,1.5 0 1,0 -3.00,0zM402.17,389.83a1.5,1.5 0 1,0 3.00,0a1.5,1.5 0 1,0 -3.00,0zM405.84,388.89a1.5,1.5 0 1,0 3.00,0a1.5,1.5 0 1,0 -3.00,0zM409.51,387.92a1.5,1.5 0 1,0 3.00,0a1.5,1.5 0 1,0 -3.00,0zM413.18,386.93a1.5,1.5 0 1,0 3.00,0a1.5,1.5 0 1,0 -3.00,0zM416.85,385.91a1.5,1.5 0 1,0 3.00,0a1.5,1.5 0 1,0 -3.00,0zM420.52,384.88a1.5,1.5 0 1,0 3.00,0a1.5,1.5 0 1,0 -3.00,0zM424.19,383.83a1.5,1.5 0 1,0 3.00,0a1.5,1.5 0 1,0 -3.00,0zM427.86,382.78a1.5,1.5 0 1,0 3.00,0a1.5,1.5 0 1,0 -3.00,0zM431.53,381.71a1.5,1.5 0 1,0 3.00,0a1.5,1.5 0 1,0 -3.00,0zM435.20,380.60a1.5,1.5 0 1,0 3.00,0a1.5,1.5 0 1,0 -3.00,0zM438.87,379.47a1.5,1.5 0 1,0 3.00,0a1.5,1.5 0 1,0 -3.00,0zM442.54,378.31a1.5,1.5 0 1,0 3.00,0a1.5,1.5 0 1,0 -3.00,0zM446.21,377.12a1.5,1.5 0 1,0 3.00,0a1.5,1.5 0 1,0 -3.00,0zM449.88,375.91a1.5,1.5 0 1,0 3.00,0a1.5,1.5 0 1,0 -3.00,0zM453.55,374.66a1.5,1.5 0 1,0 3.00,0a1.5,1.5 0 1,0 -3.00,0zM457.22,373.39a1.5,1.5 0 1,0 3.00,0a1.5,1.5 0 1,0 -3.00,0zM460.89,372.10a1.5,1.5 0 1,0 3.00,0a1.5,1.5 0 1,0 -3.00,0zM464.56,370.78a1.5,1.5 0 1,0 3.00,0a1.5,1.5 0 1,0 -3.00,0zM468.23,369.44a1.5,1.5 0 1,0 3.00,0a1.5,1.5 0 1,0 -3.00,0zM471.90,368.08a1.5,1.5 0 1,0 3.00,0a1.5,1.5 0 1,0 -3.00,0zM475.57,366.70a1.5,1.5 0 1,0 3.00,0a1.5,1.5 0 1,0 -3.00,0zM479.24,365.31a1.5,1.5 0 1,0 3.00,0a1.5,1.5 0 1,0 -3.00,0zM482.91,363.87a1.5,1.5 0 1,0 3.00,0a1.5,1.5 0 1,0 -3.00,0zM486.58,362.36a1.5,1.5 0 1,0 3.00,0a1.5,1.5 0 1,0 -3.00,0zM490.25,360.75a1.5,1.5 0 1,0 3.00,0a1.5,1.5 0 1,0 -3.00,0zM493.92,359.00a1.5,1.5 0 1,0 3.00,0a1.5,1.5 0 1,0 -3.00,0zM497.59,357.03a1.5,1.5 0 1,0 3.00,0a1.5,1.5 0 1,0 -3.00,0zM501.26,354.81a1.5,1.5 0 1,0 3.00,0a1.5,1.5 0 1,0 -3.00,0zM504.93,352.40a1.5,1.5 0 1,0 3.00,0a1.5,1.5 0 1,0 -3.00,0zM508.60,349.88a1.5,1.5 0 1,0 3.00,0a1.5,1.5 0 1,0 -3.00,0zM512.27,347.34a1.5,1.5 0 1,0 3.00,0a1.5,1.5 0 1,0 -3.00,0zM515.94,344.85a1.5,1.5 0 1,0 3.00,0a1.5,1.5 0 1,0 -3.00,0zM519.61,342.39a1.5,1.5 0 1,0 3.00,0a1.5,1.5 0 1,0 -3.00,0zM523.28,339.86a1.5,1.5 0 1,0 3.00,0a1.5,1.5 0 1,0 -3.00,0zM526.95,337.31a1.5,1.5 0 1,0 3.00,0a1.5,1.5 0 1,0 -3.00,0zM530.62,334.79a1.5,1.5 0 1,0 3.00,0a1.5,1.5 0 1,0 -3.00,0zM534.29,332.35a1.5,1.5 0 1,0 3.00,0a1.5,1.5 0 1,0 -3.00,0zM537.96,330.05a1.5,1.5 0 1,0 3.00,0a1.5,1.5 0 1,0 -3.00,0zM541.63,327.90a1.5,1.5 0 1,0 3.00,0a1.5,1.5 0 1,0 -3.00,0zM545.30,325.81a1.5,1.5 0 1,0 3.00,0a1.5,1.5 0 1,0 -3.00,0zM548.97,323.80a1.5,1.5 0 1,0 3.00,0a1.5,1.5 0 1,0 -3.00,0zM552.64,321.87a1.5,1.5 0 1,0 3.00,0a1.5,1.5 0 1,0 -3.00,0zM556.31,320.03a1.5,1.5 0 1,0 3.00,0a1.5,1.5 0 1,0 -3.00,0zM559.98,318.27a1.5,1.5 0 1,0 3.00,0a1.5,1.5 0 1,0 -3.00,0z" fill="#22dd22"/>
<path d="M55.00,418.99V420.52M62.34,418.81V420.39M66.01,418.72V420.32M73.35,418.52V420.17M77.03,418.41V420.09M84.37,418.17V419.92M88.04,418.05V419.82M95.38,417.79V419.63M99.05,417.65V419.52M106.39,417.37V419.31M110.06,417.23V419.20M117.40,416.94V418.98M121.07,416.79V418.87M128.41,416.51V418.65M132.08,416.36V418.55M139.42,416.07V418.33M143.09,415.93V418.22M150.43,415.62V417.99M154.10,415.46V417.87M161.44,415.12V417.61M165.11,414.94V417.48M172.45,414.54V417.16M176.12,414.32V416.97M183.46,413.84V416.58M187.13,413.59V416.37M194.47,413.09V415.96M198.14,412.84V415.75M205.48,412.37V415.37M209.15,412.15V415.19M216.49,411.75V414.88M220.16,411.56V414.74M227.50,411.21V414.47M231.17,411.03V414.34M238.51,410.67V414.07M242.18,410.48V413.93M249.52,410.07V413.61M253.19,409.85V413.43M260.53,409.33V413.01M264.20,409.04V412.77M271.54,408.41V412.25M275.21,408.08V411.97M282.55,407.39V411.38M286.22,407.04V411.09M293.56,406.33V410.49M297.23,405.98V410.20M304.57,405.29V409.63M308.24,404.93V409.34M315.58,404.21V408.75M319.25,403.85V408.46M326.59,403.09V407.85M330.26,402.71V407.54M337.60,401.91V406.90M341.28,401.50V406.57M348.62,400.64V405.90M352.29,400.20V405.56M359.63,399.28V404.88M363.30,398.81V404.54M370.64,397.82V403.82M374.31,397.30V403.45M381.65,396.22V402.68M385.32,395.66V402.27M392.66,394.47V401.41M396.33,393.84V400.95M403.67,392.52V399.98M407.34,391.84V399.47M414.68,390.45V398.41M418.35,389.73V397.86M425.69,388.29V396.75M429.36,387.56V396.18M436.70,386.08V395.01M440.37,385.34V394.41M447.71,383.81V393.16M451.38,383.03V392.52M458.72,381.42V391.21M462.39,380.60V390.54M469.73,378.89V389.17M473.40,378.01V388.48M480.74,376.16V387.06M484.41,375.19V386.34M491.75,373.09V384.94M495.42,371.96V384.28M502.76,369.57V383.02M506.43,368.34V382.41M513.77,365.86V381.16M521.11,363.44V379.85M524.78,362.27V379.14M532.12,360.03V377.58M535.79,358.92V376.76M543.13,356.70V375.08M550.47,354.49V373.33M554.14,353.40V372.43M561.48,351.23V370.55" stroke="#f42a14" stroke-width="1.15" fill="none"/>
<path d="M33.60,420.76 L50.78,417.45 L55.00,419.75 L58.67,419.68 L62.34,419.60 L66.01,419.52 L69.68,419.43 L73.35,419.34 L77.03,419.25 L80.70,419.15 L84.37,419.05 L88.04,418.94 L91.71,418.82 L95.38,418.71 L99.05,418.59 L102.72,418.46 L106.39,418.34 L110.06,418.21 L113.73,418.08 L117.40,417.96 L121.07,417.83 L124.74,417.70 L128.41,417.58 L132.08,417.45 L135.75,417.33 L139.42,417.20 L143.09,417.08 L146.76,416.94 L150.43,416.81 L154.10,416.67 L157.77,416.52 L161.44,416.37 L165.11,416.21 L168.78,416.04 L172.45,415.85 L176.12,415.65 L179.79,415.43 L183.46,415.21 L187.13,414.98 L190.80,414.75 L194.47,414.52 L198.14,414.30 L201.81,414.08 L205.48,413.87 L209.15,413.67 L212.82,413.48 L216.49,413.31 L220.16,413.15 L223.83,412.99 L227.50,412.84 L231.17,412.69 L234.84,412.53 L238.51,412.37 L242.18,412.21 L245.85,412.03 L249.52,411.84 L253.19,411.64 L256.86,411.41 L260.53,411.17 L264.20,410.90 L267.87,410.62 L271.54,410.33 L275.21,410.02 L278.88,409.71 L282.55,409.39 L286.22,409.06 L289.89,408.74 L293.56,408.41 L297.23,408.09 L300.90,407.78 L304.57,407.46 L308.24,407.14 L311.91,406.81 L315.58,406.48 L319.25,406.15 L322.92,405.81 L326.59,405.47 L330.26,405.12 L333.93,404.77 L337.60,404.40 L341.28,404.03 L344.95,403.65 L348.62,403.27 L352.29,402.88 L355.96,402.49 L359.63,402.08 L363.30,401.67 L366.97,401.25 L370.64,400.82 L374.31,400.38 L377.98,399.92 L381.65,399.45 L385.32,398.96 L388.99,398.46 L392.66,397.94 L396.33,397.39 L400.00,396.83 L403.67,396.25 L407.34,395.66 L411.01,395.05 L414.68,394.43 L418.35,393.80 L422.02,393.16 L425.69,392.52 L429.36,391.87 L433.03,391.21 L436.70,390.55 L440.37,389.87 L444.04,389.18 L447.71,388.48 L451.38,387.77 L455.05,387.05 L458.72,386.31 L462.39,385.57 L466.06,384.80 L469.73,384.03 L473.40,383.24 L477.07,382.44 L480.74,381.61 L484.41,380.76 L488.08,379.90 L491.75,379.02 L495.42,378.12 L499.09,377.21 L502.76,376.30 L506.43,375.37 L510.10,374.44 L513.77,373.51 L517.44,372.58 L521.11,371.65 L524.78,370.71 L528.45,369.76 L532.12,368.80 L535.79,367.84 L539.46,366.87 L543.13,365.89 L546.80,364.90 L550.47,363.91 L554.14,362.91 L557.81,361.91 L561.48,360.89" stroke="#f42a14" stroke-width="1.1" fill="none" stroke-linejoin="round"/>
<path d="M53.40,419.75a1.6,1.6 0 1,0 3.20,0a1.6,1.6 0 1,0 -3.20,0zM57.07,419.68a1.6,1.6 0 1,0 3.20,0a1.6,1.6 0 1,0 -3.20,0zM60.74,419.60a1.6,1.6 0 1,0 3.20,0a1.6,1.6 0 1,0 -3.20,0zM64.41,419.52a1.6,1.6 0 1,0 3.20,0a1.6,1.6 0 1,0 -3.20,0zM68.08,419.43a1.6,1.6 0 1,0 3.20,0a1.6,1.6 0 1,0 -3.20,0zM71.75,419.34a1.6,1.6 0 1,0 3.20,0a1.6,1.6 0 1,0 -3.20,0zM75.43,419.25a1.6,1.6 0 1,0 3.20,0a1.6,1.6 0 1,0 -3.20,0zM79.10,419.15a1.6,1.6 0 1,0 3.20,0a1.6,1.6 0 1,0 -3.20,0zM82.77,419.05a1.6,1.6 0 1,0 3.20,0a1.6,1.6 0 1,0 -3.20,0zM86.44,418.94a1.6,1.6 0 1,0 3.20,0a1.6,1.6 0 1,0 -3.20,0zM90.11,418.82a1.6,1.6 0 1,0 3.20,0a1.6,1.6 0 1,0 -3.20,0zM93.78,418.71a1.6,1.6 0 1,0 3.20,0a1.6,1.6 0 1,0 -3.20,0zM97.45,418.59a1.6,1.6 0 1,0 3.20,0a1.6,1.6 0 1,0 -3.20,0zM101.12,418.46a1.6,1.6 0 1,0 3.20,0a1.6,1.6 0 1,0 -3.20,0zM104.79,418.34a1.6,1.6 0 1,0 3.20,0a1.6,1.6 0 1,0 -3.20,0zM108.46,418.21a1.6,1.6 0 1,0 3.20,0a1.6,1.6 0 1,0 -3.20,0zM112.13,418.08a1.6,1.6 0 1,0 3.20,0a1.6,1.6 0 1,0 -3.20,0zM115.80,417.96a1.6,1.6 0 1,0 3.20,0a1.6,1.6 0 1,0 -3.20,0zM119.47,417.83a1.6,1.6 0 1,0 3.20,0a1.6,1.6 0 1,0 -3.20,0zM123.14,417.70a1.6,1.6 0 1,0 3.20,0a1.6,1.6 0 1,0 -3.20,0zM126.81,417.58a1.6,1.6 0 1,0 3.20,0a1.6,1.6 0 1,0 -3.20,0zM130.48,417.45a1.6,1.6 0 1,0 3.20,0a1.6,1.6 0 1,0 -3.20,0zM134.15,417.33a1.6,1.6 0 1,0 3.20,0a1.6,1.6 0 1,0 -3.20,0zM137.82,417.20a1.6,1.6 0 1,0 3.20,0a1.6,1.6 0 1,0 -3.20,0zM141.49,417.08a1.6,1.6 0 1,0 3.20,0a1.6,1.6 0 1,0 -3.20,0zM145.16,416.94a1.6,1.6 0 1,0 3.20,0a1.6,1.6 0 1,0 -3.20,0zM148.83,416.81a1.6,1.6 0 1,0 3.20,0a1.6,1.6 0 1,0 -3.20,0zM152.50,416.67a1.6,1.6 0 1,0 3.20,0a1.6,1.6 0 1,0 -3.20,0zM156.17,416.52a1.6,1.6 0 1,0 3.20,0a1.6,1.6 0 1,0 -3.20,0zM159.84,416.37a1.6,1.6 0 1,0 3.20,0a1.6,1.6 0 1,0 -3.20,0zM163.51,416.21a1.6,1.6 0 1,0 3.20,0a1.6,1.6 0 1,0 -3.20,0zM167.18,416.04a1.6,1.6 0 1,0 3.20,0a1.6,1.6 0 1,0 -3.20,0zM170.85,415.85a1.6,1.6 0 1,0 3.20,0a1.6,1.6 0 1,0 -3.20,0zM174.52,415.65a1.6,1.6 0 1,0 3.20,0a1.6,1.6 0 1,0 -3.20,0zM178.19,415.43a1.6,1.6 0 1,0 3.20,0a1.6,1.6 0 1,0 -3.20,0zM181.86,415.21a1.6,1.6 0 1,0 3.20,0a1.6,1.6 0 1,0 -3.20,0zM185.53,414.98a1.6,1.6 0 1,0 3.20,0a1.6,1.6 0 1,0 -3.20,0zM189.20,414.75a1.6,1.6 0 1,0 3.20,0a1.6,1.6 0 1,0 -3.20,0zM192.87,414.52a1.6,1.6 0 1,0 3.20,0a1.6,1.6 0 1,0 -3.20,0zM196.54,414.30a1.6,1.6 0 1,0 3.20,0a1.6,1.6 0 1,0 -3.20,0zM200.21,414.08a1.6,1.6 0 1,0 3.20,0a1.6,1.6 0 1,0 -3.20,0zM203.88,413.87a1.6,1.6 0 1,0 3.20,0a1.6,1.6 0 1,0 -3.20,0zM207.55,413.67a1.6,1.6 0 1,0 3.20,0a1.6,1.6 0 1,0 -3.20,0zM211.22,413.48a1.6,1.6 0 1,0 3.20,0a1.6,1.6 0 1,0 -3.20,0zM214.89,413.31a1.6,1.6 0 1,0 3.20,0a1.6,1.6 0 1,0 -3.20,0zM218.56,413.15a1.6,1.6 0 1,0 3.20,0a1.6,1.6 0 1,0 -3.20,0zM222.23,412.99a1.6,1.6 0 1,0 3.20,0a1.6,1.6 0 1,0 -3.20,0zM225.90,412.84a1.6,1.6 0 1,0 3.20,0a1.6,1.6 0 1,0 -3.20,0zM229.57,412.69a1.6,1.6 0 1,0 3.20,0a1.6,1.6 0 1,0 -3.20,0zM233.24,412.53a1.6,1.6 0 1,0 3.20,0a1.6,1.6 0 1,0 -3.20,0zM236.91,412.37a1.6,1.6 0 1,0 3.20,0a1.6,1.6 0 1,0 -3.20,0zM240.58,412.21a1.6,1.6 0 1,0 3.20,0a1.6,1.6 0 1,0 -3.20,0zM244.25,412.03a1.6,1.6 0 1,0 3.20,0a1.6,1.6 0 1,0 -3.20,0zM247.92,411.84a1.6,1.6 0 1,0 3.20,0a1.6,1.6 0 1,0 -3.20,0zM251.59,411.64a1.6,1.6 0 1,0 3.20,0a1.6,1.6 0 1,0 -3.20,0zM255.26,411.41a1.6,1.6 0 1,0 3.20,0a1.6,1.6 0 1,0 -3.20,0zM258.93,411.17a1.6,1.6 0 1,0 3.20,0a1.6,1.6 0 1,0 -3.20,0zM262.60,410.90a1.6,1.6 0 1,0 3.20,0a1.6,1.6 0 1,0 -3.20,0zM266.27,410.62a1.6,1.6 0 1,0 3.20,0a1.6,1.6 0 1,0 -3.20,0zM269.94,410.33a1.6,1.6 0 1,0 3.20,0a1.6,1.6 0 1,0 -3.20,0zM273.61,410.02a1.6,1.6 0 1,0 3.20,0a1.6,1.6 0 1,0 -3.20,0zM277.28,409.71a1.6,1.6 0 1,0 3.20,0a1.6,1.6 0 1,0 -3.20,0zM280.95,409.39a1.6,1.6 0 1,0 3.20,0a1.6,1.6 0 1,0 -3.20,0zM284.62,409.06a1.6,1.6 0 1,0 3.20,0a1.6,1.6 0 1,0 -3.20,0zM288.29,408.74a1.6,1.6 0 1,0 3.20,0a1.6,1.6 0 1,0 -3.20,0zM291.96,408.41a1.6,1.6 0 1,0 3.20,0a1.6,1.6 0 1,0 -3.20,0zM295.63,408.09a1.6,1.6 0 1,0 3.20,0a1.6,1.6 0 1,0 -3.20,0zM299.30,407.78a1.6,1.6 0 1,0 3.20,0a1.6,1.6 0 1,0 -3.20,0zM302.97,407.46a1.6,1.6 0 1,0 3.20,0a1.6,1.6 0 1,0 -3.20,0zM306.64,407.14a1.6,1.6 0 1,0 3.20,0a1.6,1.6 0 1,0 -3.20,0zM310.31,406.81a1.6,1.6 0 1,0 3.20,0a1.6,1.6 0 1,0 -3.20,0zM313.98,406.48a1.6,1.6 0 1,0 3.20,0a1.6,1.6 0 1,0 -3.20,0zM317.65,406.15a1.6,1.6 0 1,0 3.20,0a1.6,1.6 0 1,0 -3.20,0zM321.32,405.81a1.6,1.6 0 1,0 3.20,0a1.6,1.6 0 1,0 -3.20,0zM324.99,405.47a1.6,1.6 0 1,0 3.20,0a1.6,1.6 0 1,0 -3.20,0zM328.66,405.12a1.6,1.6 0 1,0 3.20,0a1.6,1.6 0 1,0 -3.20,0zM332.33,404.77a1.6,1.6 0 1,0 3.20,0a1.6,1.6 0 1,0 -3.20,0zM336.00,404.40a1.6,1.6 0 1,0 3.20,0a1.6,1.6 0 1,0 -3.20,0zM339.68,404.03a1.6,1.6 0 1,0 3.20,0a1.6,1.6 0 1,0 -3.20,0zM343.35,403.65a1.6,1.6 0 1,0 3.20,0a1.6,1.6 0 1,0 -3.20,0zM347.02,403.27a1.6,1.6 0 1,0 3.20,0a1.6,1.6 0 1,0 -3.20,0zM350.69,402.88a1.6,1.6 0 1,0 3.20,0a1.6,1.6 0 1,0 -3.20,0zM354.36,402.49a1.6,1.6 0 1,0 3.20,0a1.6,1.6 0 1,0 -3.20,0zM358.03,402.08a1.6,1.6 0 1,0 3.20,0a1.6,1.6 0 1,0 -3.20,0zM361.70,401.67a1.6,1.6 0 1,0 3.20,0a1.6,1.6 0 1,0 -3.20,0zM365.37,401.25a1.6,1.6 0 1,0 3.20,0a1.6,1.6 0 1,0 -3.20,0zM369.04,400.82a1.6,1.6 0 1,0 3.20,0a1.6,1.6 0 1,0 -3.20,0zM372.71,400.38a1.6,1.6 0 1,0 3.20,0a1.6,1.6 0 1,0 -3.20,0zM376.38,399.92a1.6,1.6 0 1,0 3.20,0a1.6,1.6 0 1,0 -3.20,0zM380.05,399.45a1.6,1.6 0 1,0 3.20,0a1.6,1.6 0 1,0 -3.20,0zM383.72,398.96a1.6,1.6 0 1,0 3.20,0a1.6,1.6 0 1,0 -3.20,0zM387.39,398.46a1.6,1.6 0 1,0 3.20,0a1.6,1.6 0 1,0 -3.20,0zM391.06,397.94a1.6,1.6 0 1,0 3.20,0a1.6,1.6 0 1,0 -3.20,0zM394.73,397.39a1.6,1.6 0 1,0 3.20,0a1.6,1.6 0 1,0 -3.20,0zM398.40,396.83a1.6,1.6 0 1,0 3.20,0a1.6,1.6 0 1,0 -3.20,0zM402.07,396.25a1.6,1.6 0 1,0 3.20,0a1.6,1.6 0 1,0 -3.20,0zM405.74,395.66a1.6,1.6 0 1,0 3.20,0a1.6,1.6 0 1,0 -3.20,0zM409.41,395.05a1.6,1.6 0 1,0 3.20,0a1.6,1.6 0 1,0 -3.20,0zM413.08,394.43a1.6,1.6 0 1,0 3.20,0a1.6,1.6 0 1,0 -3.20,0zM416.75,393.80a1.6,1.6 0 1,0 3.20,0a1.6,1.6 0 1,0 -3.20,0zM420.42,393.16a1.6,1.6 0 1,0 3.20,0a1.6,1.6 0 1,0 -3.20,0zM424.09,392.52a1.6,1.6 0 1,0 3.20,0a1.6,1.6 0 1,0 -3.20,0zM427.76,391.87a1.6,1.6 0 1,0 3.20,0a1.6,1.6 0 1,0 -3.20,0zM431.43,391.21a1.6,1.6 0 1,0 3.20,0a1.6,1.6 0 1,0 -3.20,0zM435.10,390.55a1.6,1.6 0 1,0 3.20,0a1.6,1.6 0 1,0 -3.20,0zM438.77,389.87a1.6,1.6 0 1,0 3.20,0a1.6,1.6 0 1,0 -3.20,0zM442.44,389.18a1.6,1.6 0 1,0 3.20,0a1.6,1.6 0 1,0 -3.20,0zM446.11,388.48a1.6,1.6 0 1,0 3.20,0a1.6,1.6 0 1,0 -3.20,0zM449.78,387.77a1.6,1.6 0 1,0 3.20,0a1.6,1.6 0 1,0 -3.20,0zM453.45,387.05a1.6,1.6 0 1,0 3.20,0a1.6,1.6 0 1,0 -3.20,0zM457.12,386.31a1.6,1.6 0 1,0 3.20,0a1.6,1.6 0 1,0 -3.20,0zM460.79,385.57a1.6,1.6 0 1,0 3.20,0a1.6,1.6 0 1,0 -3.20,0zM464.46,384.80a1.6,1.6 0 1,0 3.20,0a1.6,1.6 0 1,0 -3.20,0zM468.13,384.03a1.6,1.6 0 1,0 3.20,0a1.6,1.6 0 1,0 -3.20,0zM471.80,383.24a1.6,1.6 0 1,0 3.20,0a1.6,1.6 0 1,0 -3.20,0zM475.47,382.44a1.6,1.6 0 1,0 3.20,0a1.6,1.6 0 1,0 -3.20,0zM479.14,381.61a1.6,1.6 0 1,0 3.20,0a1.6,1.6 0 1,0 -3.20,0zM482.81,380.76a1.6,1.6 0 1,0 3.20,0a1.6,1.6 0 1,0 -3.20,0zM486.48,379.90a1.6,1.6 0 1,0 3.20,0a1.6,1.6 0 1,0 -3.20,0zM490.15,379.02a1.6,1.6 0 1,0 3.20,0a1.6,1.6 0 1,0 -3.20,0zM493.82,378.12a1.6,1.6 0 1,0 3.20,0a1.6,1.6 0 1,0 -3.20,0zM497.49,377.21a1.6,1.6 0 1,0 3.20,0a1.6,1.6 0 1,0 -3.20,0zM501.16,376.30a1.6,1.6 0 1,0 3.20,0a1.6,1.6 0 1,0 -3.20,0zM504.83,375.37a1.6,1.6 0 1,0 3.20,0a1.6,1.6 0 1,0 -3.20,0zM508.50,374.44a1.6,1.6 0 1,0 3.20,0a1.6,1.6 0 1,0 -3.20,0zM512.17,373.51a1.6,1.6 0 1,0 3.20,0a1.6,1.6 0 1,0 -3.20,0zM515.84,372.58a1.6,1.6 0 1,0 3.20,0a1.6,1.6 0 1,0 -3.20,0zM519.51,371.65a1.6,1.6 0 1,0 3.20,0a1.6,1.6 0 1,0 -3.20,0zM523.18,370.71a1.6,1.6 0 1,0 3.20,0a1.6,1.6 0 1,0 -3.20,0zM526.85,369.76a1.6,1.6 0 1,0 3.20,0a1.6,1.6 0 1,0 -3.20,0zM530.52,368.80a1.6,1.6 0 1,0 3.20,0a1.6,1.6 0 1,0 -3.20,0zM534.19,367.84a1.6,1.6 0 1,0 3.20,0a1.6,1.6 0 1,0 -3.20,0zM537.86,366.87a1.6,1.6 0 1,0 3.20,0a1.6,1.6 0 1,0 -3.20,0zM541.53,365.89a1.6,1.6 0 1,0 3.20,0a1.6,1.6 0 1,0 -3.20,0zM545.20,364.90a1.6,1.6 0 1,0 3.20,0a1.6,1.6 0 1,0 -3.20,0zM548.87,363.91a1.6,1.6 0 1,0 3.20,0a1.6,1.6 0 1,0 -3.20,0zM552.54,362.91a1.6,1.6 0 1,0 3.20,0a1.6,1.6 0 1,0 -3.20,0zM556.21,361.91a1.6,1.6 0 1,0 3.20,0a1.6,1.6 0 1,0 -3.20,0zM559.88,360.89a1.6,1.6 0 1,0 3.20,0a1.6,1.6 0 1,0 -3.20,0z" fill="#f42a14"/>
<path d="M55.00,416.92V418.95M62.34,416.57V418.69M66.01,416.39V418.56M73.35,416.03V418.31M77.03,415.85V418.19M84.37,415.49V417.96M88.04,415.30V417.85M95.38,414.94V417.63M99.05,414.76V417.52M106.39,414.38V417.31M110.06,414.18V417.20M117.40,413.77V416.96M121.07,413.55V416.84M128.41,413.09V416.58M132.08,412.85V416.44M139.42,412.36V416.16M143.09,412.11V416.01M150.43,411.57V415.69M154.10,411.29V415.52M161.44,410.69V415.15M165.11,410.37V414.95M172.45,409.68V414.50M176.12,409.29V414.23M183.46,408.47V413.66M187.13,408.03V413.35M194.47,407.14V412.70M198.14,406.68V412.37M205.48,405.77V411.72M209.15,405.32V411.40M216.49,404.41V410.78M220.16,403.93V410.48M227.50,402.96V409.89M231.17,402.45V409.59M238.51,401.41V409.01M242.18,400.88V408.72M249.52,399.79V408.14M253.19,399.23V407.84M260.53,398.10V407.24M264.20,397.54V406.95M271.54,396.39V406.34M275.21,395.81V406.03M282.55,394.63V405.36M286.22,394.02V405.00M293.56,392.76V404.23M297.23,392.11V403.80M304.57,390.75V402.87M308.24,390.04V402.35M315.58,388.59V401.23M319.25,387.84V400.63M326.59,386.32V399.34M330.26,385.55V398.66M337.60,384.01V397.22M341.28,383.24V396.47M348.62,381.66V394.89M352.29,380.83V394.06M359.63,379.12V392.35M363.30,378.24V391.47M370.64,376.42V389.65M374.31,375.48V388.71M381.65,373.57V386.80M385.32,372.59V385.82M392.66,370.60V383.83M396.33,369.59V382.82M403.67,367.51V380.73M407.34,366.43V379.66M414.68,364.22V377.45M418.35,363.06V376.29M425.69,360.66V373.89M429.36,359.41V372.64M436.70,356.72V369.99M440.37,355.27V368.60M447.71,352.20V365.70M451.38,350.59V364.22M458.72,347.28V361.18M462.39,345.58V359.65M469.73,342.17V356.59M473.40,340.45V355.07M480.74,337.01V352.03M484.41,335.26V350.49M491.75,331.67V347.42M495.42,329.81V345.91M502.76,325.97V342.90M506.43,324.01V341.40M513.77,320.03V338.39M521.11,315.99V335.33M524.78,313.95V333.77M532.12,309.86V330.58M535.79,307.80V328.96M543.13,303.62V325.68M550.47,299.38V322.35M554.14,297.24V320.66M561.48,292.91V317.25" stroke="#3058f2" stroke-width="1.15" fill="none"/>
<path d="M33.60,420.76 L50.78,417.45 L55.00,417.94 L58.67,417.78 L62.34,417.63 L66.01,417.48 L69.68,417.33 L73.35,417.17 L77.03,417.02 L80.70,416.87 L84.37,416.72 L88.04,416.58 L91.71,416.43 L95.38,416.29 L99.05,416.14 L102.72,415.99 L106.39,415.84 L110.06,415.69 L113.73,415.53 L117.40,415.37 L121.07,415.19 L124.74,415.01 L128.41,414.83 L132.08,414.65 L135.75,414.46 L139.42,414.26 L143.09,414.06 L146.76,413.85 L150.43,413.63 L154.10,413.41 L157.77,413.17 L161.44,412.92 L165.11,412.66 L168.78,412.39 L172.45,412.09 L176.12,411.76 L179.79,411.42 L183.46,411.06 L187.13,410.69 L190.80,410.31 L194.47,409.92 L198.14,409.53 L201.81,409.13 L205.48,408.74 L209.15,408.36 L212.82,407.98 L216.49,407.59 L220.16,407.21 L223.83,406.82 L227.50,406.42 L231.17,406.02 L234.84,405.62 L238.51,405.21 L242.18,404.80 L245.85,404.38 L249.52,403.96 L253.19,403.53 L256.86,403.10 L260.53,402.67 L264.20,402.24 L267.87,401.81 L271.54,401.37 L275.21,400.92 L278.88,400.46 L282.55,399.99 L286.22,399.51 L289.89,399.01 L293.56,398.49 L297.23,397.96 L300.90,397.40 L304.57,396.81 L308.24,396.20 L311.91,395.56 L315.58,394.91 L319.25,394.23 L322.92,393.54 L326.59,392.83 L330.26,392.11 L333.93,391.37 L337.60,390.62 L341.28,389.85 L344.95,389.07 L348.62,388.27 L352.29,387.45 L355.96,386.60 L359.63,385.74 L363.30,384.85 L366.97,383.95 L370.64,383.03 L374.31,382.10 L377.98,381.15 L381.65,380.18 L385.32,379.20 L388.99,378.22 L392.66,377.22 L396.33,376.20 L400.00,375.17 L403.67,374.12 L407.34,373.05 L411.01,371.95 L414.68,370.83 L418.35,369.68 L422.02,368.50 L425.69,367.28 L429.36,366.02 L433.03,364.72 L436.70,363.36 L440.37,361.93 L444.04,360.46 L447.71,358.95 L451.38,357.40 L455.05,355.83 L458.72,354.23 L462.39,352.62 L466.06,351.00 L469.73,349.38 L473.40,347.76 L477.07,346.15 L480.74,344.52 L484.41,342.88 L488.08,341.22 L491.75,339.55 L495.42,337.86 L499.09,336.15 L502.76,334.44 L506.43,332.71 L510.10,330.96 L513.77,329.21 L517.44,327.44 L521.11,325.66 L524.78,323.86 L528.45,322.05 L532.12,320.22 L535.79,318.38 L539.46,316.52 L543.13,314.65 L546.80,312.76 L550.47,310.86 L554.14,308.95 L557.81,307.02 L561.48,305.08" stroke="#1846f0" stroke-width="1.4" fill="none" stroke-linejoin="round"/>
<path d="M53.20,416.14h3.60v3.60h-3.60zM56.87,415.98h3.60v3.60h-3.60zM60.54,415.83h3.60v3.60h-3.60zM64.21,415.68h3.60v3.60h-3.60zM67.88,415.53h3.60v3.60h-3.60zM71.55,415.37h3.60v3.60h-3.60zM75.23,415.22h3.60v3.60h-3.60zM78.90,415.07h3.60v3.60h-3.60zM82.57,414.92h3.60v3.60h-3.60zM86.24,414.78h3.60v3.60h-3.60zM89.91,414.63h3.60v3.60h-3.60zM93.58,414.49h3.60v3.60h-3.60zM97.25,414.34h3.60v3.60h-3.60zM100.92,414.19h3.60v3.60h-3.60zM104.59,414.04h3.60v3.60h-3.60zM108.26,413.89h3.60v3.60h-3.60zM111.93,413.73h3.60v3.60h-3.60zM115.60,413.57h3.60v3.60h-3.60zM119.27,413.39h3.60v3.60h-3.60zM122.94,413.21h3.60v3.60h-3.60zM126.61,413.03h3.60v3.60h-3.60zM130.28,412.85h3.60v3.60h-3.60zM133.95,412.66h3.60v3.60h-3.60zM137.62,412.46h3.60v3.60h-3.60zM141.29,412.26h3.60v3.60h-3.60zM144.96,412.05h3.60v3.60h-3.60zM148.63,411.83h3.60v3.60h-3.60zM152.30,411.61h3.60v3.60h-3.60zM155.97,411.37h3.60v3.60h-3.60zM159.64,411.12h3.60v3.60h-3.60zM163.31,410.86h3.60v3.60h-3.60zM166.98,410.59h3.60v3.60h-3.60zM170.65,410.29h3.60v3.60h-3.60zM174.32,409.96h3.60v3.60h-3.60zM177.99,409.62h3.60v3.60h-3.60zM181.66,409.26h3.60v3.60h-3.60zM185.33,408.89h3.60v3.60h-3.60zM189.00,408.51h3.60v3.60h-3.60zM192.67,408.12h3.60v3.60h-3.60zM196.34,407.73h3.60v3.60h-3.60zM200.01,407.33h3.60v3.60h-3.60zM203.68,406.94h3.60v3.60h-3.60zM207.35,406.56h3.60v3.60h-3.60zM211.02,406.18h3.60v3.60h-3.60zM214.69,405.79h3.60v3.60h-3.60zM218.36,405.41h3.60v3.60h-3.60zM222.03,405.02h3.60v3.60h-3.60zM225.70,404.62h3.60v3.60h-3.60zM229.37,404.22h3.60v3.60h-3.60zM233.04,403.82h3.60v3.60h-3.60zM236.71,403.41h3.60v3.60h-3.60zM240.38,403.00h3.60v3.60h-3.60zM244.05,402.58h3.60v3.60h-3.60zM247.72,402.16h3.60v3.60h-3.60zM251.39,401.73h3.60v3.60h-3.60zM255.06,401.30h3.60v3.60h-3.60zM258.73,400.87h3.60v3.60h-3.60zM262.40,400.44h3.60v3.60h-3.60zM266.07,400.01h3.60v3.60h-3.60zM269.74,399.57h3.60v3.60h-3.60zM273.41,399.12h3.60v3.60h-3.60zM277.08,398.66h3.60v3.60h-3.60zM280.75,398.19h3.60v3.60h-3.60zM284.42,397.71h3.60v3.60h-3.60zM288.09,397.21h3.60v3.60h-3.60zM291.76,396.69h3.60v3.60h-3.60zM295.43,396.16h3.60v3.60h-3.60zM299.10,395.60h3.60v3.60h-3.60zM302.77,395.01h3.60v3.60h-3.60zM306.44,394.40h3.60v3.60h-3.60zM310.11,393.76h3.60v3.60h-3.60zM313.78,393.11h3.60v3.60h-3.60zM317.45,392.43h3.60v3.60h-3.60zM321.12,391.74h3.60v3.60h-3.60zM324.79,391.03h3.60v3.60h-3.60zM328.46,390.31h3.60v3.60h-3.60zM332.13,389.57h3.60v3.60h-3.60zM335.80,388.82h3.60v3.60h-3.60zM339.48,388.05h3.60v3.60h-3.60zM343.15,387.27h3.60v3.60h-3.60zM346.82,386.47h3.60v3.60h-3.60zM350.49,385.65h3.60v3.60h-3.60zM354.16,384.80h3.60v3.60h-3.60zM357.83,383.94h3.60v3.60h-3.60zM361.50,383.05h3.60v3.60h-3.60zM365.17,382.15h3.60v3.60h-3.60zM368.84,381.23h3.60v3.60h-3.60zM372.51,380.30h3.60v3.60h-3.60zM376.18,379.35h3.60v3.60h-3.60zM379.85,378.38h3.60v3.60h-3.60zM383.52,377.40h3.60v3.60h-3.60zM387.19,376.42h3.60v3.60h-3.60zM390.86,375.42h3.60v3.60h-3.60zM394.53,374.40h3.60v3.60h-3.60zM398.20,373.37h3.60v3.60h-3.60zM401.87,372.32h3.60v3.60h-3.60zM405.54,371.25h3.60v3.60h-3.60zM409.21,370.15h3.60v3.60h-3.60zM412.88,369.03h3.60v3.60h-3.60zM416.55,367.88h3.60v3.60h-3.60zM420.22,366.70h3.60v3.60h-3.60zM423.89,365.48h3.60v3.60h-3.60zM427.56,364.22h3.60v3.60h-3.60zM431.23,362.92h3.60v3.60h-3.60zM434.90,361.56h3.60v3.60h-3.60zM438.57,360.13h3.60v3.60h-3.60zM442.24,358.66h3.60v3.60h-3.60zM445.91,357.15h3.60v3.60h-3.60zM449.58,355.60h3.60v3.60h-3.60zM453.25,354.03h3.60v3.60h-3.60zM456.92,352.43h3.60v3.60h-3.60zM460.59,350.82h3.60v3.60h-3.60zM464.26,349.20h3.60v3.60h-3.60zM467.93,347.58h3.60v3.60h-3.60zM471.60,345.96h3.60v3.60h-3.60zM475.27,344.35h3.60v3.60h-3.60zM478.94,342.72h3.60v3.60h-3.60zM482.61,341.08h3.60v3.60h-3.60zM486.28,339.42h3.60v3.60h-3.60zM489.95,337.75h3.60v3.60h-3.60zM493.62,336.06h3.60v3.60h-3.60zM497.29,334.35h3.60v3.60h-3.60zM500.96,332.64h3.60v3.60h-3.60zM504.63,330.91h3.60v3.60h-3.60zM508.30,329.16h3.60v3.60h-3.60zM511.97,327.41h3.60v3.60h-3.60zM515.64,325.64h3.60v3.60h-3.60zM519.31,323.86h3.60v3.60h-3.60zM522.98,322.06h3.60v3.60h-3.60zM526.65,320.25h3.60v3.60h-3.60zM530.32,318.42h3.60v3.60h-3.60zM533.99,316.58h3.60v3.60h-3.60zM537.66,314.72h3.60v3.60h-3.60zM541.33,312.85h3.60v3.60h-3.60zM545.00,310.96h3.60v3.60h-3.60zM548.67,309.06h3.60v3.60h-3.60zM552.34,307.15h3.60v3.60h-3.60zM556.01,305.22h3.60v3.60h-3.60zM559.68,303.28h3.60v3.60h-3.60z" fill="#1846f0"/>
<line x1="33.60" y1="420.76" x2="50.78" y2="417.45" stroke="#2a1f6a" stroke-width="1.3"/>
<line x1="33.60" y1="420.76" x2="50.78" y2="417.45" stroke="#f42a14" stroke-width="1.1" stroke-dasharray="2 2"/>
<circle cx="33.60" cy="420.76" r="1.6" fill="#f42a14"/>
<path d="M50.78,413.85 L53.98,419.45 L47.58,419.45 Z" fill="none" stroke="#111" stroke-width="1"/>
<rect x="48.38" y="415.65" width="4.8" height="4.2" fill="none" stroke="#1846f0" stroke-width="1"/>
<circle cx="50.78" cy="418.45" r="1.2" fill="none" stroke="#f42a14" stroke-width="0.9"/>
<rect x="48.4" y="211.7" width="94.9" height="66.2" fill="#fff" stroke="#111" stroke-width="1.3" stroke-dasharray="1.2 1.2"/>
<line x1="55.4" y1="222.0" x2="73.8" y2="222.0" stroke="#111111" stroke-width="2"/>
<circle cx="64.7" cy="222.0" r="2.8" fill="#111111"/>
<text x="79.3" y="225.1" font-family="Liberation Sans, sans-serif" font-size="10.8" font-weight="bold" textLength="33.0" lengthAdjust="spacingAndGlyphs">Control</text>
<line x1="55.4" y1="235.5" x2="73.8" y2="235.5" stroke="#1846f0" stroke-width="2"/>
<path d="M56.5,233.9v3.2M58.5,233.9v3.2M60.5,233.9v3.2M68.5,233.9v3.2M70.5,233.9v3.2M72.5,233.9v3.2" stroke="#1846f0" stroke-width="0.9" opacity="0.8"/>
<circle cx="64.7" cy="235.5" r="2.8" fill="#1846f0"/>
<text x="79.3" y="238.5" font-family="Liberation Sans, sans-serif" font-size="10.8" font-weight="bold" textLength="50.8" lengthAdjust="spacingAndGlyphs">Everolimus</text>
<line x1="55.4" y1="249.4" x2="73.8" y2="249.4" stroke="#22dd22" stroke-width="2"/>
<path d="M56.5,247.8v3.2M58.5,247.8v3.2M60.5,247.8v3.2M68.5,247.8v3.2M70.5,247.8v3.2M72.5,247.8v3.2" stroke="#22dd22" stroke-width="0.9" opacity="0.8"/>
<circle cx="64.7" cy="249.4" r="2.8" fill="#22dd22"/>
<text x="79.3" y="252.7" font-family="Liberation Sans, sans-serif" font-size="10.8" font-weight="bold" textLength="45.0" lengthAdjust="spacingAndGlyphs">Sorafenib</text>
<line x1="55.4" y1="263.3" x2="73.8" y2="263.3" stroke="#f42a14" stroke-width="2"/>
<circle cx="64.7" cy="263.3" r="2.8" fill="#f42a14"/>
<text x="79.3" y="266.6" font-family="Liberation Sans, sans-serif" font-size="10.8" font-weight="bold" textLength="57.3" lengthAdjust="spacingAndGlyphs">Combination</text>
</svg>
</body></html>
